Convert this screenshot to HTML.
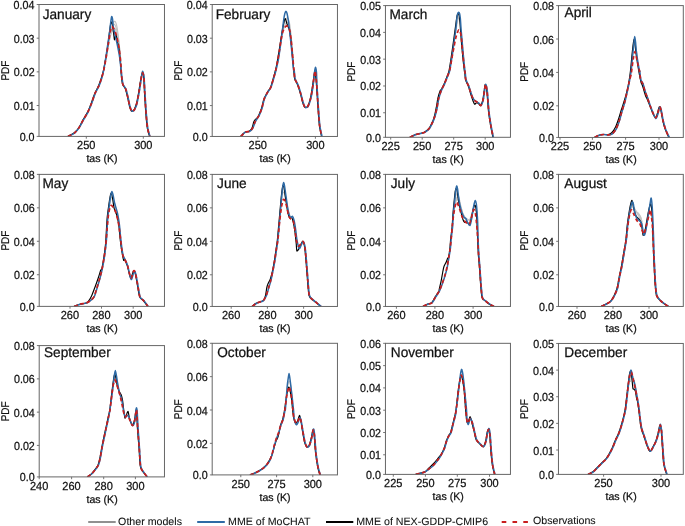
<!DOCTYPE html>
<html><head><meta charset="utf-8"><style>
html,body{margin:0;padding:0;background:#fff;overflow:hidden;}
svg{display:block;will-change:transform;}
text{font-family:"Liberation Sans", sans-serif;fill:#111;text-rendering:geometricPrecision;stroke:#111;stroke-width:0.25px;}
</style></head><body>
<svg width="685" height="526" viewBox="0 0 685 526">
<rect width="685" height="526" fill="#fff"/>
<clipPath id="c_January"><rect x="39.0" y="4.5" width="125.47" height="131.90"/></clipPath>
<g clip-path="url(#c_January)" fill="none" stroke-linejoin="round"><path d="M105.00,64.00 C105.40,61.60 107.27,50.13 108.00,46.00 C108.73,41.87 109.90,35.80 110.50,33.00 C111.10,30.20 112.03,26.53 112.50,25.00 C112.97,23.47 113.60,21.90 114.00,21.50 C114.40,21.10 115.10,21.27 115.50,22.00 C115.90,22.73 116.60,24.87 117.00,27.00 C117.40,29.13 118.10,34.67 118.50,38.00 C118.90,41.33 119.63,48.00 120.00,52.00 C120.37,56.00 121.13,65.87 121.30,68.00" stroke="#c4c4c4" stroke-width="1.2"/><path d="M106.00,60.00 C106.40,57.60 108.27,46.00 109.00,42.00 C109.73,38.00 110.90,32.33 111.50,30.00 C112.10,27.67 113.03,25.17 113.50,24.50 C113.97,23.83 114.60,24.40 115.00,25.00 C115.40,25.60 116.10,27.53 116.50,29.00 C116.90,30.47 117.60,33.47 118.00,36.00 C118.40,38.53 119.10,44.53 119.50,48.00 C119.90,51.47 120.80,60.13 121.00,62.00" stroke="#c4c4c4" stroke-width="1.2"/><path d="M105.50,62.00 C105.90,59.73 107.77,48.73 108.50,45.00 C109.23,41.27 110.40,36.00 111.00,34.00 C111.60,32.00 112.53,30.80 113.00,30.00 C113.47,29.20 114.10,27.87 114.50,28.00 C114.90,28.13 115.60,29.67 116.00,31.00 C116.40,32.33 117.03,35.20 117.50,38.00 C117.97,40.80 119.03,48.27 119.50,52.00 C119.97,55.73 120.80,64.13 121.00,66.00" stroke="#c4c4c4" stroke-width="1.2"/><path d="M67.75,136.40 C68.63,135.92 72.88,133.96 74.35,132.80 C75.82,131.64 77.58,129.46 78.75,127.70 C79.92,125.94 81.99,121.65 83.15,119.60 C84.31,117.55 86.38,114.43 87.45,112.30 C88.52,110.17 90.18,106.12 91.15,103.60 C92.12,101.08 93.78,95.73 94.75,93.40 C95.72,91.07 97.57,88.15 98.45,86.10 C99.33,84.05 100.67,80.15 101.35,78.00 C102.03,75.85 102.94,72.80 103.55,70.00 C104.16,67.20 105.35,60.47 105.95,57.00 C106.55,53.53 107.54,47.60 108.05,44.00 C108.56,40.40 109.34,32.91 109.75,30.00 C110.16,27.09 110.82,23.00 111.15,22.20 C111.48,21.40 111.93,22.56 112.25,24.00 C112.57,25.44 113.26,30.89 113.55,33.00 C113.84,35.11 114.22,39.33 114.45,39.80 C114.68,40.27 115.01,37.07 115.25,36.50 C115.49,35.93 115.98,34.90 116.25,35.50 C116.52,36.10 116.90,39.36 117.25,41.00 C117.60,42.64 118.41,44.73 118.85,47.80 C119.29,50.87 120.22,60.24 120.55,64.00 C120.88,67.76 121.08,73.31 121.35,76.00 C121.62,78.69 122.00,82.47 122.55,84.20 C123.10,85.93 124.77,87.20 125.45,89.00 C126.13,90.80 127.10,95.37 127.65,97.70 C128.20,100.03 129.07,104.75 129.55,106.50 C130.03,108.25 130.82,110.20 131.25,110.80 C131.68,111.40 132.35,111.17 132.75,111.00 C133.15,110.83 133.77,110.43 134.25,109.50 C134.73,108.57 135.78,106.20 136.35,104.00 C136.92,101.80 138.02,95.97 138.55,93.00 C139.08,90.03 139.87,84.37 140.35,81.70 C140.83,79.03 141.71,73.56 142.15,73.00 C142.59,72.44 143.34,74.98 143.65,77.50 C143.96,80.02 144.16,87.06 144.45,91.90 C144.74,96.74 145.46,108.93 145.85,113.80 C146.24,118.67 146.86,125.39 147.35,128.40 C147.84,131.41 149.26,135.33 149.55,136.40" stroke="#000" stroke-width="1.15"/><path d="M68.25,136.40 C69.13,135.92 73.38,133.96 74.85,132.80 C76.32,131.64 78.08,129.46 79.25,127.70 C80.42,125.94 82.49,121.65 83.65,119.60 C84.81,117.55 86.88,114.43 87.95,112.30 C89.02,110.17 90.68,106.12 91.65,103.60 C92.62,101.08 94.28,95.73 95.25,93.40 C96.22,91.07 98.07,88.15 98.95,86.10 C99.83,84.05 101.21,80.15 101.85,78.00 C102.49,75.85 103.23,72.67 103.75,70.00 C104.27,67.33 105.28,60.96 105.75,58.00 C106.22,55.04 106.76,51.11 107.25,47.80 C107.74,44.49 108.98,36.64 109.45,33.20 C109.92,29.76 110.46,24.21 110.75,22.00 C111.04,19.79 111.41,17.00 111.65,16.60 C111.89,16.20 112.35,17.76 112.55,19.00 C112.75,20.24 112.86,23.90 113.15,25.90 C113.44,27.90 114.34,32.12 114.75,34.00 C115.16,35.88 115.82,38.16 116.25,40.00 C116.68,41.84 117.48,45.40 117.95,47.80 C118.42,50.20 119.34,55.08 119.75,58.00 C120.16,60.92 120.77,67.30 121.05,69.70 C121.33,72.10 121.58,74.07 121.85,76.00 C122.12,77.93 122.50,82.47 123.05,84.20 C123.60,85.93 125.27,87.20 125.95,89.00 C126.63,90.80 127.60,95.37 128.15,97.70 C128.70,100.03 129.57,104.75 130.05,106.50 C130.53,108.25 131.32,110.20 131.75,110.80 C132.18,111.40 132.85,111.17 133.25,111.00 C133.65,110.83 134.27,110.43 134.75,109.50 C135.23,108.57 136.28,106.20 136.85,104.00 C137.42,101.80 138.52,95.97 139.05,93.00 C139.58,90.03 140.45,84.23 140.85,81.70 C141.25,79.17 141.80,75.40 142.05,74.00 C142.30,72.60 142.54,71.13 142.75,71.20 C142.96,71.27 143.46,73.66 143.65,74.50 C143.84,75.34 143.98,75.18 144.15,77.50 C144.32,79.82 144.66,87.06 144.95,91.90 C145.24,96.74 145.96,108.93 146.35,113.80 C146.74,118.67 147.36,125.39 147.85,128.40 C148.34,131.41 149.76,135.33 150.05,136.40" stroke="#2e6aa5" stroke-width="1.5"/><path d="M68.00,136.40 C68.88,135.92 73.13,133.96 74.60,132.80 C76.07,131.64 77.83,129.46 79.00,127.70 C80.17,125.94 82.24,121.65 83.40,119.60 C84.56,117.55 86.63,114.43 87.70,112.30 C88.77,110.17 90.43,106.12 91.40,103.60 C92.37,101.08 94.03,95.73 95.00,93.40 C95.97,91.07 97.82,88.15 98.70,86.10 C99.58,84.05 100.92,80.15 101.60,78.00 C102.28,75.85 103.19,72.80 103.80,70.00 C104.41,67.20 105.60,60.47 106.20,57.00 C106.80,53.53 107.77,47.33 108.30,44.00 C108.83,40.67 109.73,34.32 110.20,32.00 C110.67,29.68 111.36,27.07 111.80,26.60 C112.24,26.13 112.91,27.42 113.50,28.50 C114.09,29.58 115.45,32.13 116.20,34.70 C116.95,37.27 118.49,43.89 119.10,47.80 C119.71,51.71 120.47,60.24 120.80,64.00 C121.13,67.76 121.33,73.31 121.60,76.00 C121.87,78.69 122.25,82.47 122.80,84.20 C123.35,85.93 125.02,87.20 125.70,89.00 C126.38,90.80 127.35,95.37 127.90,97.70 C128.45,100.03 129.32,104.75 129.80,106.50 C130.28,108.25 131.07,110.20 131.50,110.80 C131.93,111.40 132.60,111.17 133.00,111.00 C133.40,110.83 134.02,110.43 134.50,109.50 C134.98,108.57 136.03,106.20 136.60,104.00 C137.17,101.80 138.27,95.97 138.80,93.00 C139.33,90.03 140.12,84.37 140.60,81.70 C141.08,79.03 141.96,73.56 142.40,73.00 C142.84,72.44 143.59,74.98 143.90,77.50 C144.21,80.02 144.41,87.06 144.70,91.90 C144.99,96.74 145.71,108.93 146.10,113.80 C146.49,118.67 147.11,125.39 147.60,128.40 C148.09,131.41 149.51,135.33 149.80,136.40" stroke="#c81e1e" stroke-width="1.7" stroke-dasharray="3.8 2.6"/></g>
<rect x="39.0" y="4.5" width="125.47" height="131.90" fill="none" stroke="#666" stroke-width="1"/>
<line x1="36.70" y1="136.40" x2="39.0" y2="136.40" stroke="#666" stroke-width="0.9"/>
<text transform="translate(19.64,140.90) scale(0.915,1)" font-size="11.7">0.0</text>
<line x1="36.70" y1="105.53" x2="39.0" y2="105.53" stroke="#666" stroke-width="0.9"/>
<text transform="translate(13.79,110.03) scale(0.915,1)" font-size="11.7">0.01</text>
<line x1="36.70" y1="71.85" x2="39.0" y2="71.85" stroke="#666" stroke-width="0.9"/>
<text transform="translate(13.80,76.35) scale(0.915,1)" font-size="11.7">0.02</text>
<line x1="36.70" y1="38.18" x2="39.0" y2="38.18" stroke="#666" stroke-width="0.9"/>
<text transform="translate(13.73,42.68) scale(0.915,1)" font-size="11.7">0.03</text>
<line x1="36.70" y1="4.50" x2="39.0" y2="4.50" stroke="#666" stroke-width="0.9"/>
<text transform="translate(13.58,9.00) scale(0.915,1)" font-size="11.7">0.04</text>
<line x1="86.3" y1="136.4" x2="86.3" y2="138.70" stroke="#666" stroke-width="0.9"/>
<text transform="translate(77.06,149.30) scale(0.94,1)" font-size="11.7">250</text>
<line x1="143.3" y1="136.4" x2="143.3" y2="138.70" stroke="#666" stroke-width="0.9"/>
<text transform="translate(134.13,149.30) scale(0.94,1)" font-size="11.7">300</text>
<text transform="translate(86.40,162.20) scale(0.98,1)" font-size="10.8">tas (K)</text>
<text transform="translate(8.70,70.45) rotate(-90) translate(-10.12,0) scale(0.885,1)" font-size="11.2">PDF</text>
<text transform="translate(42.64,19.00) scale(0.975,1)" font-size="14.0" fill="#000">January</text>
<clipPath id="c_February"><rect x="212.2" y="4.5" width="125.25" height="131.96"/></clipPath>
<g clip-path="url(#c_February)" fill="none" stroke-linejoin="round"><path d="M280.00,46.00 C280.27,44.27 281.47,35.93 282.00,33.00 C282.53,30.07 283.47,25.87 284.00,24.00 C284.53,22.13 285.53,19.80 286.00,19.00 C286.47,18.20 287.10,17.73 287.50,18.00 C287.90,18.27 288.60,19.40 289.00,21.00 C289.40,22.60 290.10,26.80 290.50,30.00 C290.90,33.20 291.60,40.73 292.00,45.00 C292.40,49.27 293.30,59.73 293.50,62.00" stroke="#c4c4c4" stroke-width="1.2"/><path d="M281.00,42.00 C281.27,40.53 282.47,33.27 283.00,31.00 C283.53,28.73 284.47,26.20 285.00,25.00 C285.53,23.80 286.53,22.13 287.00,22.00 C287.47,21.87 288.10,22.93 288.50,24.00 C288.90,25.07 289.60,27.60 290.00,30.00 C290.40,32.40 291.10,38.27 291.50,42.00 C291.90,45.73 292.80,55.87 293.00,58.00" stroke="#c4c4c4" stroke-width="1.2"/><path d="M240.55,136.46 C241.12,135.89 243.69,132.89 244.85,132.20 C246.01,131.51 248.28,131.89 249.25,131.30 C250.22,130.71 251.55,129.04 252.15,127.80 C252.75,126.56 253.34,123.11 253.75,122.00 C254.16,120.89 254.85,119.97 255.25,119.50 C255.65,119.03 256.28,119.06 256.75,118.50 C257.22,117.94 258.10,116.70 258.75,115.30 C259.40,113.90 260.97,110.15 261.65,108.00 C262.33,105.85 263.06,101.35 263.85,99.20 C264.64,97.05 266.67,93.46 267.55,91.90 C268.43,90.34 269.68,89.35 270.45,87.50 C271.22,85.65 272.67,80.33 273.35,78.00 C274.03,75.67 275.02,72.27 275.55,70.00 C276.08,67.73 276.87,63.57 277.35,61.00 C277.83,58.43 278.70,53.50 279.15,50.70 C279.60,47.90 280.27,43.03 280.75,40.00 C281.23,36.97 282.18,30.85 282.75,28.00 C283.32,25.15 284.49,19.17 285.05,18.60 C285.61,18.03 286.52,22.58 286.95,23.70 C287.38,24.82 287.92,26.12 288.25,27.00 C288.58,27.88 289.12,28.77 289.45,30.30 C289.78,31.83 290.46,36.17 290.75,38.50 C291.04,40.83 291.38,44.93 291.65,47.80 C291.92,50.67 292.47,56.97 292.75,60.00 C293.03,63.03 293.50,67.99 293.75,70.50 C294.00,73.01 294.16,76.92 294.65,78.80 C295.14,80.68 296.69,82.65 297.45,84.60 C298.21,86.55 299.67,91.07 300.35,93.40 C301.03,95.73 301.96,100.25 302.55,102.10 C303.14,103.95 304.07,106.74 304.75,107.30 C305.43,107.86 306.88,107.58 307.65,106.30 C308.42,105.02 309.87,100.59 310.55,97.70 C311.23,94.81 312.26,87.76 312.75,84.60 C313.24,81.44 313.94,75.75 314.25,74.00 C314.56,72.25 314.76,70.09 315.05,71.50 C315.34,72.91 316.08,79.93 316.45,84.60 C316.82,89.27 317.46,101.05 317.85,106.50 C318.24,111.95 318.86,121.51 319.35,125.50 C319.84,129.49 321.26,135.00 321.55,136.46" stroke="#000" stroke-width="1.15"/><path d="M241.05,136.46 C241.62,135.89 244.19,132.89 245.35,132.20 C246.51,131.51 248.78,131.81 249.75,131.30 C250.72,130.79 251.86,129.76 252.65,128.40 C253.44,127.04 254.77,122.85 255.65,121.10 C256.53,119.35 258.38,117.05 259.25,115.30 C260.12,113.55 261.47,110.15 262.15,108.00 C262.83,105.85 263.56,101.35 264.35,99.20 C265.14,97.05 267.17,93.46 268.05,91.90 C268.93,90.34 270.18,89.35 270.95,87.50 C271.72,85.65 273.17,80.33 273.85,78.00 C274.53,75.67 275.41,72.67 276.05,70.00 C276.69,67.33 277.97,61.93 278.65,58.00 C279.33,54.07 280.48,45.55 281.15,40.50 C281.82,35.45 283.16,23.70 283.65,20.10 C284.14,16.50 284.54,14.67 284.85,13.50 C285.16,12.33 285.66,11.30 285.95,11.30 C286.24,11.30 286.72,12.14 287.05,13.50 C287.38,14.86 287.97,17.90 288.45,21.50 C288.93,25.10 290.16,36.02 290.65,40.50 C291.14,44.98 291.76,51.17 292.15,55.10 C292.54,59.03 293.27,67.95 293.55,70.00 C293.83,72.05 294.04,69.33 294.25,70.50 C294.46,71.67 294.66,76.92 295.15,78.80 C295.64,80.68 297.19,82.65 297.95,84.60 C298.71,86.55 300.17,91.07 300.85,93.40 C301.53,95.73 302.46,100.25 303.05,102.10 C303.64,103.95 304.57,106.74 305.25,107.30 C305.93,107.86 307.38,107.58 308.15,106.30 C308.92,105.02 310.37,100.59 311.05,97.70 C311.73,94.81 312.78,88.03 313.25,84.60 C313.72,81.17 314.26,74.32 314.55,72.00 C314.84,69.68 315.20,67.20 315.45,67.20 C315.70,67.20 316.25,69.68 316.45,72.00 C316.65,74.32 316.70,80.00 316.95,84.60 C317.20,89.20 317.96,101.05 318.35,106.50 C318.74,111.95 319.36,121.51 319.85,125.50 C320.34,129.49 321.76,135.00 322.05,136.46" stroke="#2e6aa5" stroke-width="1.5"/><path d="M240.80,136.46 C241.37,135.89 243.94,132.89 245.10,132.20 C246.26,131.51 248.53,131.81 249.50,131.30 C250.47,130.79 251.61,129.76 252.40,128.40 C253.19,127.04 254.52,122.85 255.40,121.10 C256.28,119.35 258.13,117.05 259.00,115.30 C259.87,113.55 261.22,110.15 261.90,108.00 C262.58,105.85 263.31,101.35 264.10,99.20 C264.89,97.05 266.92,93.46 267.80,91.90 C268.68,90.34 269.93,89.35 270.70,87.50 C271.47,85.65 272.92,80.33 273.60,78.00 C274.28,75.67 275.27,72.27 275.80,70.00 C276.33,67.73 277.12,63.57 277.60,61.00 C278.08,58.43 278.95,53.43 279.40,50.70 C279.85,47.97 280.60,42.83 281.00,40.50 C281.40,38.17 281.93,34.87 282.40,33.20 C282.87,31.53 283.93,28.97 284.50,28.00 C285.07,27.03 286.17,25.97 286.70,25.90 C287.23,25.83 288.10,26.91 288.50,27.50 C288.90,28.09 289.37,28.83 289.70,30.30 C290.03,31.77 290.71,36.17 291.00,38.50 C291.29,40.83 291.63,44.93 291.90,47.80 C292.17,50.67 292.72,56.97 293.00,60.00 C293.28,63.03 293.75,67.99 294.00,70.50 C294.25,73.01 294.41,76.92 294.90,78.80 C295.39,80.68 296.94,82.65 297.70,84.60 C298.46,86.55 299.92,91.07 300.60,93.40 C301.28,95.73 302.21,100.25 302.80,102.10 C303.39,103.95 304.32,106.74 305.00,107.30 C305.68,107.86 307.13,107.58 307.90,106.30 C308.67,105.02 310.12,100.59 310.80,97.70 C311.48,94.81 312.51,87.76 313.00,84.60 C313.49,81.44 314.19,75.75 314.50,74.00 C314.81,72.25 315.01,70.09 315.30,71.50 C315.59,72.91 316.33,79.93 316.70,84.60 C317.07,89.27 317.71,101.05 318.10,106.50 C318.49,111.95 319.11,121.51 319.60,125.50 C320.09,129.49 321.51,135.00 321.80,136.46" stroke="#c81e1e" stroke-width="1.7" stroke-dasharray="3.8 2.6"/></g>
<rect x="212.2" y="4.5" width="125.25" height="131.96" fill="none" stroke="#666" stroke-width="1"/>
<line x1="209.90" y1="136.46" x2="212.2" y2="136.46" stroke="#666" stroke-width="0.9"/>
<text transform="translate(192.84,140.96) scale(0.915,1)" font-size="11.7">0.0</text>
<line x1="209.90" y1="105.57" x2="212.2" y2="105.57" stroke="#666" stroke-width="0.9"/>
<text transform="translate(186.99,110.07) scale(0.915,1)" font-size="11.7">0.01</text>
<line x1="209.90" y1="71.88" x2="212.2" y2="71.88" stroke="#666" stroke-width="0.9"/>
<text transform="translate(187.00,76.38) scale(0.915,1)" font-size="11.7">0.02</text>
<line x1="209.90" y1="38.19" x2="212.2" y2="38.19" stroke="#666" stroke-width="0.9"/>
<text transform="translate(186.93,42.69) scale(0.915,1)" font-size="11.7">0.03</text>
<line x1="209.90" y1="4.50" x2="212.2" y2="4.50" stroke="#666" stroke-width="0.9"/>
<text transform="translate(186.78,9.00) scale(0.915,1)" font-size="11.7">0.04</text>
<line x1="257.8" y1="136.46" x2="257.8" y2="138.76" stroke="#666" stroke-width="0.9"/>
<text transform="translate(248.56,149.36) scale(0.94,1)" font-size="11.7">250</text>
<line x1="315.4" y1="136.46" x2="315.4" y2="138.76" stroke="#666" stroke-width="0.9"/>
<text transform="translate(306.23,149.36) scale(0.94,1)" font-size="11.7">300</text>
<text transform="translate(259.49,162.26) scale(0.98,1)" font-size="10.8">tas (K)</text>
<text transform="translate(181.90,70.48) rotate(-90) translate(-10.12,0) scale(0.885,1)" font-size="11.2">PDF</text>
<text transform="translate(215.68,19.00) scale(0.975,1)" font-size="14.0" fill="#000">February</text>
<clipPath id="c_March"><rect x="385.45" y="5.59" width="125.01" height="131.71"/></clipPath>
<g clip-path="url(#c_March)" fill="none" stroke-linejoin="round"><path d="M452.00,58.00 C452.33,55.60 453.83,44.53 454.50,40.00 C455.17,35.47 456.47,26.93 457.00,24.00 C457.53,21.07 458.10,18.27 458.50,18.00 C458.90,17.73 459.60,19.33 460.00,22.00 C460.40,24.67 461.10,33.60 461.50,38.00 C461.90,42.40 462.80,52.73 463.00,55.00" stroke="#c4c4c4" stroke-width="1.2"/><path d="M409.75,137.30 C410.52,136.93 414.19,135.01 415.55,134.50 C416.91,133.99 418.78,133.79 419.95,133.50 C421.12,133.21 423.18,132.94 424.35,132.30 C425.52,131.66 427.68,130.06 428.75,128.70 C429.82,127.34 431.82,123.06 432.35,122.10 C432.88,121.14 432.43,122.45 432.75,121.50 C433.07,120.55 434.24,117.07 434.75,115.00 C435.26,112.93 436.12,108.27 436.55,106.00 C436.98,103.73 437.46,100.07 437.95,98.00 C438.44,95.93 439.82,91.57 440.25,90.50 C440.68,89.43 440.64,90.85 441.15,90.00 C441.66,89.15 443.28,85.86 444.05,84.10 C444.82,82.34 446.30,78.55 446.95,76.80 C447.60,75.05 448.39,73.56 448.95,71.00 C449.51,68.44 450.55,61.53 451.15,57.60 C451.75,53.67 452.80,46.18 453.45,41.50 C454.10,36.82 455.56,25.97 456.05,22.50 C456.54,19.03 456.88,16.70 457.15,15.50 C457.42,14.30 457.80,13.50 458.05,13.50 C458.30,13.50 458.80,14.30 459.05,15.50 C459.30,16.70 459.64,19.03 459.95,22.50 C460.26,25.97 460.96,36.82 461.35,41.50 C461.74,46.18 462.45,53.67 462.85,57.60 C463.25,61.53 464.10,69.08 464.35,71.00 C464.60,72.92 464.59,70.83 464.75,72.00 C464.91,73.17 465.10,77.99 465.55,79.80 C466.00,81.61 467.42,83.57 468.15,85.60 C468.88,87.63 470.37,92.88 471.05,95.00 C471.73,97.12 472.76,100.26 473.25,101.50 C473.74,102.74 474.36,104.10 474.75,104.30 C475.14,104.50 475.67,103.13 476.15,103.00 C476.63,102.87 477.76,102.97 478.35,103.30 C478.94,103.63 479.96,105.91 480.55,105.50 C481.14,105.09 482.26,102.27 482.75,100.20 C483.24,98.13 483.90,92.11 484.25,90.00 C484.60,87.89 485.00,84.21 485.35,84.40 C485.70,84.59 486.42,87.73 486.85,91.40 C487.28,95.07 488.03,107.22 488.55,111.90 C489.07,116.58 490.16,123.11 490.75,126.50 C491.34,129.89 492.66,135.86 492.95,137.30" stroke="#000" stroke-width="1.15"/><path d="M410.25,137.30 C411.02,136.93 414.69,135.01 416.05,134.50 C417.41,133.99 419.28,133.79 420.45,133.50 C421.62,133.21 423.68,132.94 424.85,132.30 C426.02,131.66 428.18,130.06 429.25,128.70 C430.32,127.34 432.08,123.75 432.85,122.10 C433.62,120.45 434.46,118.25 435.05,116.30 C435.64,114.35 436.76,109.85 437.25,107.50 C437.74,105.15 438.16,101.03 438.75,98.70 C439.34,96.37 440.88,91.95 441.65,90.00 C442.42,88.05 443.78,85.86 444.55,84.10 C445.32,82.34 446.77,78.55 447.45,76.80 C448.13,75.05 449.06,73.56 449.65,71.00 C450.24,68.44 451.25,61.53 451.85,57.60 C452.45,53.67 453.60,45.45 454.15,41.50 C454.70,37.55 455.59,31.05 455.95,28.00 C456.31,24.95 456.61,20.53 456.85,18.60 C457.09,16.67 457.51,14.35 457.75,13.50 C457.99,12.65 458.41,12.20 458.65,12.20 C458.89,12.20 459.32,12.65 459.55,13.50 C459.78,14.35 460.15,16.52 460.35,18.60 C460.55,20.68 460.81,26.05 461.05,29.10 C461.29,32.15 461.82,37.70 462.15,41.50 C462.48,45.30 463.18,53.67 463.55,57.60 C463.92,61.53 464.72,69.08 464.95,71.00 C465.18,72.92 465.10,70.83 465.25,72.00 C465.40,73.17 465.60,77.99 466.05,79.80 C466.50,81.61 467.92,83.65 468.65,85.60 C469.38,87.55 470.87,92.55 471.55,94.40 C472.23,96.25 473.07,98.53 473.75,99.50 C474.43,100.47 475.97,101.22 476.65,101.70 C477.33,102.18 478.26,102.59 478.85,103.10 C479.44,103.61 480.46,105.89 481.05,105.50 C481.64,105.11 482.76,102.27 483.25,100.20 C483.74,98.13 484.40,92.11 484.75,90.00 C485.10,87.89 485.50,84.21 485.85,84.40 C486.20,84.59 486.92,87.73 487.35,91.40 C487.78,95.07 488.53,107.22 489.05,111.90 C489.57,116.58 490.66,123.11 491.25,126.50 C491.84,129.89 493.16,135.86 493.45,137.30" stroke="#2e6aa5" stroke-width="1.5"/><path d="M410.00,137.30 C410.77,136.93 414.44,135.01 415.80,134.50 C417.16,133.99 419.03,133.79 420.20,133.50 C421.37,133.21 423.43,132.94 424.60,132.30 C425.77,131.66 427.93,130.06 429.00,128.70 C430.07,127.34 431.83,123.75 432.60,122.10 C433.37,120.45 434.21,118.25 434.80,116.30 C435.39,114.35 436.51,109.85 437.00,107.50 C437.49,105.15 437.91,101.03 438.50,98.70 C439.09,96.37 440.63,91.95 441.40,90.00 C442.17,88.05 443.53,85.86 444.30,84.10 C445.07,82.34 446.47,78.68 447.20,76.80 C447.93,74.92 449.21,72.24 449.80,70.00 C450.39,67.76 451.16,62.44 451.60,60.00 C452.04,57.56 452.51,54.75 453.10,51.70 C453.69,48.65 455.23,40.02 456.00,37.10 C456.77,34.18 458.22,29.99 458.90,29.80 C459.58,29.61 460.61,32.78 461.10,35.70 C461.59,38.62 462.21,47.79 462.60,51.70 C462.99,55.61 463.68,62.29 464.00,65.00 C464.32,67.71 464.76,70.03 465.00,72.00 C465.24,73.97 465.35,77.99 465.80,79.80 C466.25,81.61 467.67,83.65 468.40,85.60 C469.13,87.55 470.62,92.55 471.30,94.40 C471.98,96.25 472.82,98.53 473.50,99.50 C474.18,100.47 475.72,101.22 476.40,101.70 C477.08,102.18 478.01,102.59 478.60,103.10 C479.19,103.61 480.21,105.89 480.80,105.50 C481.39,105.11 482.51,102.27 483.00,100.20 C483.49,98.13 484.15,92.11 484.50,90.00 C484.85,87.89 485.25,84.21 485.60,84.40 C485.95,84.59 486.67,87.73 487.10,91.40 C487.53,95.07 488.28,107.22 488.80,111.90 C489.32,116.58 490.41,123.11 491.00,126.50 C491.59,129.89 492.91,135.86 493.20,137.30" stroke="#c81e1e" stroke-width="1.7" stroke-dasharray="3.8 2.6"/></g>
<rect x="385.45" y="5.59" width="125.01" height="131.71" fill="none" stroke="#666" stroke-width="1"/>
<line x1="383.15" y1="137.30" x2="385.45" y2="137.30" stroke="#666" stroke-width="0.9"/>
<text transform="translate(366.09,141.80) scale(0.915,1)" font-size="11.7">0.0</text>
<line x1="383.15" y1="112.76" x2="385.45" y2="112.76" stroke="#666" stroke-width="0.9"/>
<text transform="translate(360.24,117.26) scale(0.915,1)" font-size="11.7">0.01</text>
<line x1="383.15" y1="85.97" x2="385.45" y2="85.97" stroke="#666" stroke-width="0.9"/>
<text transform="translate(360.25,90.47) scale(0.915,1)" font-size="11.7">0.02</text>
<line x1="383.15" y1="59.17" x2="385.45" y2="59.17" stroke="#666" stroke-width="0.9"/>
<text transform="translate(360.18,63.67) scale(0.915,1)" font-size="11.7">0.03</text>
<line x1="383.15" y1="32.38" x2="385.45" y2="32.38" stroke="#666" stroke-width="0.9"/>
<text transform="translate(360.03,36.88) scale(0.915,1)" font-size="11.7">0.04</text>
<line x1="383.15" y1="5.59" x2="385.45" y2="5.59" stroke="#666" stroke-width="0.9"/>
<text transform="translate(360.16,10.09) scale(0.915,1)" font-size="11.7">0.05</text>
<line x1="390.7" y1="137.3" x2="390.7" y2="139.60" stroke="#666" stroke-width="0.9"/>
<text transform="translate(381.48,150.20) scale(0.94,1)" font-size="11.7">225</text>
<line x1="422.2" y1="137.3" x2="422.2" y2="139.60" stroke="#666" stroke-width="0.9"/>
<text transform="translate(412.96,150.20) scale(0.94,1)" font-size="11.7">250</text>
<line x1="453.7" y1="137.3" x2="453.7" y2="139.60" stroke="#666" stroke-width="0.9"/>
<text transform="translate(444.48,150.20) scale(0.94,1)" font-size="11.7">275</text>
<line x1="485.2" y1="137.3" x2="485.2" y2="139.60" stroke="#666" stroke-width="0.9"/>
<text transform="translate(476.03,150.20) scale(0.94,1)" font-size="11.7">300</text>
<text transform="translate(432.62,163.10) scale(0.98,1)" font-size="10.8">tas (K)</text>
<text transform="translate(355.15,71.45) rotate(-90) translate(-10.12,0) scale(0.885,1)" font-size="11.2">PDF</text>
<text transform="translate(389.48,19.00) scale(0.975,1)" font-size="14.0" fill="#000">March</text>
<clipPath id="c_April"><rect x="558.46" y="5.6" width="124.84" height="131.85"/></clipPath>
<g clip-path="url(#c_April)" fill="none" stroke-linejoin="round"><path d="M632.00,60.00 C632.20,58.40 633.13,50.13 633.50,48.00 C633.87,45.87 634.47,44.00 634.80,44.00 C635.13,44.00 635.64,46.13 636.00,48.00 C636.36,49.87 637.30,56.67 637.50,58.00" stroke="#c4c4c4" stroke-width="1.2"/><path d="M594.45,137.45 C595.04,137.15 597.69,135.59 598.85,135.20 C600.01,134.81 601.90,134.59 603.15,134.50 C604.40,134.41 607.08,134.77 608.25,134.50 C609.42,134.23 610.98,133.50 611.95,132.50 C612.92,131.50 614.67,128.80 615.55,127.00 C616.43,125.20 617.76,121.33 618.55,119.00 C619.34,116.67 620.68,111.97 621.45,109.50 C622.22,107.03 623.67,102.71 624.35,100.50 C625.03,98.29 625.96,95.27 626.55,92.90 C627.14,90.53 628.23,85.62 628.75,82.70 C629.27,79.78 630.00,74.93 630.45,71.00 C630.90,67.07 631.76,56.93 632.15,53.20 C632.54,49.47 633.08,44.85 633.35,43.00 C633.62,41.15 633.92,39.17 634.15,39.30 C634.38,39.43 634.81,42.15 635.05,44.00 C635.29,45.85 635.46,49.60 635.95,53.20 C636.44,56.80 638.18,67.56 638.75,71.00 C639.32,74.44 639.93,77.44 640.25,79.00 C640.57,80.56 640.82,81.70 641.15,82.70 C641.48,83.70 642.16,84.75 642.75,86.50 C643.34,88.25 644.99,94.20 645.55,95.80 C646.11,97.40 646.36,97.14 646.95,98.50 C647.54,99.86 649.16,104.03 649.95,106.00 C650.74,107.97 652.12,111.74 652.85,113.30 C653.58,114.86 654.84,117.70 655.45,117.70 C656.06,117.70 656.93,114.75 657.45,113.30 C657.97,111.85 658.90,107.19 659.35,106.80 C659.80,106.41 660.40,108.56 660.85,110.40 C661.30,112.24 662.16,118.07 662.75,120.60 C663.34,123.13 664.44,127.15 665.25,129.40 C666.06,131.65 668.37,136.38 668.85,137.45" stroke="#000" stroke-width="1.15"/><path d="M594.95,137.45 C595.54,137.15 598.19,135.59 599.35,135.20 C600.51,134.81 602.40,134.54 603.65,134.50 C604.90,134.46 607.58,134.99 608.75,134.90 C609.92,134.81 611.48,134.53 612.45,133.80 C613.42,133.07 615.17,130.96 616.05,129.40 C616.93,127.84 618.26,124.43 619.05,122.10 C619.84,119.77 621.18,114.53 621.95,111.90 C622.72,109.27 624.17,104.93 624.85,102.40 C625.53,99.87 626.46,95.53 627.05,92.90 C627.64,90.27 628.70,85.62 629.25,82.70 C629.80,79.78 630.67,74.93 631.15,71.00 C631.63,67.07 632.46,57.07 632.85,53.20 C633.24,49.33 633.80,44.24 634.05,42.00 C634.30,39.76 634.55,36.40 634.75,36.40 C634.95,36.40 635.31,39.76 635.55,42.00 C635.79,44.24 636.03,49.33 636.55,53.20 C637.07,57.07 639.02,68.63 639.45,71.00 C639.88,73.37 639.55,69.83 639.75,71.00 C639.95,72.17 640.50,78.05 640.95,79.80 C641.40,81.55 642.58,82.55 643.15,84.10 C643.72,85.65 644.68,89.64 645.25,91.40 C645.82,93.16 646.76,95.35 647.45,97.30 C648.14,99.25 649.66,103.84 650.45,106.00 C651.24,108.16 652.62,111.82 653.35,113.50 C654.08,115.18 655.34,118.53 655.95,118.60 C656.56,118.67 657.43,115.57 657.95,114.00 C658.47,112.43 659.40,107.28 659.85,106.80 C660.30,106.32 660.90,108.56 661.35,110.40 C661.80,112.24 662.66,118.07 663.25,120.60 C663.84,123.13 664.94,127.15 665.75,129.40 C666.56,131.65 668.87,136.38 669.35,137.45" stroke="#2e6aa5" stroke-width="1.5"/><path d="M594.70,137.45 C595.29,137.15 597.94,135.59 599.10,135.20 C600.26,134.81 602.15,134.54 603.40,134.50 C604.65,134.46 607.33,134.99 608.50,134.90 C609.67,134.81 611.23,134.53 612.20,133.80 C613.17,133.07 614.92,130.96 615.80,129.40 C616.68,127.84 618.01,124.43 618.80,122.10 C619.59,119.77 620.93,114.53 621.70,111.90 C622.47,109.27 623.92,104.93 624.60,102.40 C625.28,99.87 626.21,95.53 626.80,92.90 C627.39,90.27 628.41,85.23 629.00,82.70 C629.59,80.17 630.80,75.86 631.20,73.90 C631.60,71.94 631.71,70.12 632.00,68.00 C632.29,65.88 633.03,60.17 633.40,58.00 C633.77,55.83 634.41,51.83 634.80,51.70 C635.19,51.57 635.91,55.44 636.30,57.00 C636.69,58.56 637.27,61.53 637.70,63.40 C638.13,65.27 639.10,68.81 639.50,71.00 C639.90,73.19 640.25,78.05 640.70,79.80 C641.15,81.55 642.33,82.55 642.90,84.10 C643.47,85.65 644.43,89.64 645.00,91.40 C645.57,93.16 646.51,95.35 647.20,97.30 C647.89,99.25 649.41,103.87 650.20,106.00 C650.99,108.13 652.37,111.74 653.10,113.30 C653.83,114.86 655.09,117.70 655.70,117.70 C656.31,117.70 657.18,114.75 657.70,113.30 C658.22,111.85 659.15,107.19 659.60,106.80 C660.05,106.41 660.65,108.56 661.10,110.40 C661.55,112.24 662.41,118.07 663.00,120.60 C663.59,123.13 664.69,127.15 665.50,129.40 C666.31,131.65 668.62,136.38 669.10,137.45" stroke="#c81e1e" stroke-width="1.7" stroke-dasharray="3.8 2.6"/></g>
<rect x="558.46" y="5.6" width="124.84" height="131.85" fill="none" stroke="#666" stroke-width="1"/>
<line x1="556.16" y1="137.45" x2="558.46" y2="137.45" stroke="#666" stroke-width="0.9"/>
<text transform="translate(539.10,141.95) scale(0.915,1)" font-size="11.7">0.0</text>
<line x1="556.16" y1="105.84" x2="558.46" y2="105.84" stroke="#666" stroke-width="0.9"/>
<text transform="translate(533.26,110.34) scale(0.915,1)" font-size="11.7">0.02</text>
<line x1="556.16" y1="72.42" x2="558.46" y2="72.42" stroke="#666" stroke-width="0.9"/>
<text transform="translate(533.04,76.92) scale(0.915,1)" font-size="11.7">0.04</text>
<line x1="556.16" y1="39.01" x2="558.46" y2="39.01" stroke="#666" stroke-width="0.9"/>
<text transform="translate(533.19,43.51) scale(0.915,1)" font-size="11.7">0.06</text>
<line x1="556.16" y1="5.60" x2="558.46" y2="5.60" stroke="#666" stroke-width="0.9"/>
<text transform="translate(533.19,10.10) scale(0.915,1)" font-size="11.7">0.08</text>
<line x1="560" y1="137.45" x2="560" y2="139.75" stroke="#666" stroke-width="0.9"/>
<text transform="translate(550.78,150.35) scale(0.94,1)" font-size="11.7">225</text>
<line x1="592.4" y1="137.45" x2="592.4" y2="139.75" stroke="#666" stroke-width="0.9"/>
<text transform="translate(583.16,150.35) scale(0.94,1)" font-size="11.7">250</text>
<line x1="625.6" y1="137.45" x2="625.6" y2="139.75" stroke="#666" stroke-width="0.9"/>
<text transform="translate(616.38,150.35) scale(0.94,1)" font-size="11.7">275</text>
<line x1="659" y1="137.45" x2="659" y2="139.75" stroke="#666" stroke-width="0.9"/>
<text transform="translate(649.83,150.35) scale(0.94,1)" font-size="11.7">300</text>
<text transform="translate(605.54,163.25) scale(0.98,1)" font-size="10.8">tas (K)</text>
<text transform="translate(528.16,71.52) rotate(-90) translate(-10.12,0) scale(0.885,1)" font-size="11.2">PDF</text>
<text transform="translate(564.57,17.00) scale(0.975,1)" font-size="14.0" fill="#000">April</text>
<clipPath id="c_May"><rect x="39.2" y="174.39" width="125.27" height="131.99"/></clipPath>
<g clip-path="url(#c_May)" fill="none" stroke-linejoin="round"><path d="M107.00,228.00 C107.20,225.87 108.03,215.73 108.50,212.00 C108.97,208.27 110.03,202.00 110.50,200.00 C110.97,198.00 111.60,197.00 112.00,197.00 C112.40,197.00 113.03,198.67 113.50,200.00 C113.97,201.33 114.90,204.73 115.50,207.00 C116.10,209.27 117.67,215.67 118.00,217.00" stroke="#c4c4c4" stroke-width="1.2"/><path d="M73.95,306.38 C74.74,306.09 78.29,304.64 79.85,304.20 C81.41,303.76 84.60,303.37 85.65,303.10 C86.70,302.83 86.98,303.12 87.75,302.20 C88.52,301.28 90.46,298.27 91.45,296.20 C92.44,294.13 94.18,289.33 95.15,286.70 C96.12,284.07 98.00,278.73 98.75,276.50 C99.50,274.27 100.35,270.97 100.75,270.00 C101.15,269.03 101.34,270.87 101.75,269.20 C102.16,267.53 103.38,260.46 103.85,257.50 C104.32,254.54 104.98,249.33 105.25,247.00 C105.52,244.67 105.60,243.87 105.85,240.00 C106.10,236.13 106.74,222.80 107.15,218.00 C107.56,213.20 108.55,206.87 108.95,204.00 C109.35,201.13 109.86,197.97 110.15,196.50 C110.44,195.03 110.86,192.93 111.15,193.00 C111.44,193.07 111.95,194.96 112.35,197.00 C112.75,199.04 113.56,205.90 114.15,208.30 C114.74,210.70 116.14,212.77 116.75,215.00 C117.36,217.23 118.28,221.67 118.75,225.00 C119.22,228.33 119.89,236.80 120.25,240.00 C120.61,243.20 121.10,246.73 121.45,249.00 C121.80,251.27 122.56,255.48 122.85,257.00 C123.14,258.52 123.45,260.07 123.65,260.40 C123.85,260.73 123.87,258.82 124.35,259.50 C124.83,260.18 126.41,263.03 127.25,265.50 C128.09,267.97 129.81,277.31 130.65,278.00 C131.49,278.69 132.94,271.29 133.55,270.70 C134.16,270.11 134.73,271.65 135.25,273.60 C135.77,275.55 136.86,282.19 137.45,285.30 C138.04,288.41 138.86,294.86 139.65,296.90 C140.44,298.94 142.28,299.34 143.35,300.60 C144.42,301.86 147.08,305.61 147.65,306.38" stroke="#000" stroke-width="1.15"/><path d="M74.45,306.38 C75.24,306.09 78.79,304.64 80.35,304.20 C81.91,303.76 84.79,303.58 86.15,303.10 C87.51,302.62 89.48,301.43 90.55,300.60 C91.62,299.77 93.28,298.55 94.15,296.90 C95.02,295.25 96.26,290.72 97.05,288.20 C97.84,285.68 99.36,280.53 100.05,278.00 C100.74,275.47 101.68,271.93 102.25,269.20 C102.82,266.47 103.88,260.46 104.35,257.50 C104.82,254.54 105.47,249.33 105.75,247.00 C106.03,244.67 106.18,243.89 106.45,240.00 C106.72,236.11 107.34,222.71 107.75,217.80 C108.16,212.89 109.14,206.24 109.55,203.20 C109.96,200.16 110.53,196.56 110.85,195.00 C111.17,193.44 111.66,191.50 111.95,191.50 C112.24,191.50 112.69,193.44 113.05,195.00 C113.41,196.56 114.05,200.75 114.65,203.20 C115.25,205.65 116.91,210.48 117.55,213.40 C118.19,216.32 119.01,221.55 119.45,225.10 C119.89,228.65 120.65,238.01 120.85,240.00 C121.05,241.99 120.80,238.83 120.95,240.00 C121.10,241.17 121.63,246.65 121.95,248.80 C122.27,250.95 122.96,254.74 123.35,256.10 C123.74,257.46 124.26,257.68 124.85,259.00 C125.44,260.32 126.91,263.27 127.75,266.00 C128.59,268.73 130.31,278.77 131.15,279.50 C131.99,280.23 133.44,272.29 134.05,271.50 C134.66,270.71 135.23,271.76 135.75,273.60 C136.27,275.44 137.36,282.19 137.95,285.30 C138.54,288.41 139.36,294.86 140.15,296.90 C140.94,298.94 142.78,299.34 143.85,300.60 C144.92,301.86 147.58,305.61 148.15,306.38" stroke="#2e6aa5" stroke-width="1.5"/><path d="M74.20,306.38 C74.99,306.09 78.54,304.64 80.10,304.20 C81.66,303.76 84.54,303.58 85.90,303.10 C87.26,302.62 89.23,301.43 90.30,300.60 C91.37,299.77 93.03,298.55 93.90,296.90 C94.77,295.25 96.01,290.72 96.80,288.20 C97.59,285.68 99.11,280.53 99.80,278.00 C100.49,275.47 101.43,271.93 102.00,269.20 C102.57,266.47 103.63,260.46 104.10,257.50 C104.57,254.54 105.19,249.60 105.50,247.00 C105.81,244.40 106.17,240.53 106.40,238.00 C106.63,235.47 106.92,231.13 107.20,228.00 C107.48,224.87 108.13,217.23 108.50,214.50 C108.87,211.77 109.61,208.71 110.00,207.50 C110.39,206.29 111.00,205.47 111.40,205.40 C111.80,205.33 112.51,206.32 113.00,207.00 C113.49,207.68 114.43,208.67 115.10,210.50 C115.77,212.33 117.40,217.97 118.00,220.70 C118.60,223.43 119.24,228.43 119.60,231.00 C119.96,233.57 120.42,237.63 120.70,240.00 C120.98,242.37 121.38,246.65 121.70,248.80 C122.02,250.95 122.71,254.74 123.10,256.10 C123.49,257.46 124.01,257.75 124.60,259.00 C125.19,260.25 126.66,262.97 127.50,265.50 C128.34,268.03 130.06,277.31 130.90,278.00 C131.74,278.69 133.19,271.29 133.80,270.70 C134.41,270.11 134.98,271.65 135.50,273.60 C136.02,275.55 137.11,282.19 137.70,285.30 C138.29,288.41 139.11,294.86 139.90,296.90 C140.69,298.94 142.53,299.34 143.60,300.60 C144.67,301.86 147.33,305.61 147.90,306.38" stroke="#c81e1e" stroke-width="1.7" stroke-dasharray="3.8 2.6"/></g>
<rect x="39.2" y="174.39" width="125.27" height="131.99" fill="none" stroke="#666" stroke-width="1"/>
<line x1="36.90" y1="306.38" x2="39.2" y2="306.38" stroke="#666" stroke-width="0.9"/>
<text transform="translate(19.84,310.88) scale(0.915,1)" font-size="11.7">0.0</text>
<line x1="36.90" y1="274.73" x2="39.2" y2="274.73" stroke="#666" stroke-width="0.9"/>
<text transform="translate(14.00,279.23) scale(0.915,1)" font-size="11.7">0.02</text>
<line x1="36.90" y1="241.28" x2="39.2" y2="241.28" stroke="#666" stroke-width="0.9"/>
<text transform="translate(13.78,245.78) scale(0.915,1)" font-size="11.7">0.04</text>
<line x1="36.90" y1="207.84" x2="39.2" y2="207.84" stroke="#666" stroke-width="0.9"/>
<text transform="translate(13.93,212.34) scale(0.915,1)" font-size="11.7">0.06</text>
<line x1="36.90" y1="174.39" x2="39.2" y2="174.39" stroke="#666" stroke-width="0.9"/>
<text transform="translate(13.93,178.89) scale(0.915,1)" font-size="11.7">0.08</text>
<line x1="70" y1="306.38" x2="70" y2="308.68" stroke="#666" stroke-width="0.9"/>
<text transform="translate(60.76,319.28) scale(0.94,1)" font-size="11.7">260</text>
<line x1="101.5" y1="306.38" x2="101.5" y2="308.68" stroke="#666" stroke-width="0.9"/>
<text transform="translate(92.26,319.28) scale(0.94,1)" font-size="11.7">280</text>
<line x1="133.2" y1="306.38" x2="133.2" y2="308.68" stroke="#666" stroke-width="0.9"/>
<text transform="translate(124.03,319.28) scale(0.94,1)" font-size="11.7">300</text>
<text transform="translate(86.50,332.18) scale(0.98,1)" font-size="10.8">tas (K)</text>
<text transform="translate(8.90,240.38) rotate(-90) translate(-10.12,0) scale(0.885,1)" font-size="11.2">PDF</text>
<text transform="translate(42.48,188.00) scale(0.975,1)" font-size="14.0" fill="#000">May</text>
<clipPath id="c_June"><rect x="212.19" y="174.4" width="125.26" height="132.06"/></clipPath>
<g clip-path="url(#c_June)" fill="none" stroke-linejoin="round"><path d="M280.00,214.00 C280.27,211.60 281.49,198.93 282.00,196.00 C282.51,193.07 283.33,191.87 283.80,192.00 C284.27,192.13 285.01,195.00 285.50,197.00 C285.99,199.00 286.90,204.47 287.50,207.00 C288.10,209.53 289.67,214.80 290.00,216.00" stroke="#c4c4c4" stroke-width="1.2"/><path d="M252.05,306.46 C252.54,306.07 254.78,304.09 255.75,303.50 C256.72,302.91 258.38,302.39 259.35,302.00 C260.32,301.61 262.26,301.33 263.05,300.60 C263.84,299.87 264.73,298.31 265.25,296.50 C265.77,294.69 266.55,288.76 266.95,287.00 C267.35,285.24 267.80,284.37 268.25,283.30 C268.70,282.23 269.78,280.68 270.35,279.00 C270.92,277.32 272.00,273.18 272.55,270.70 C273.10,268.22 273.97,263.32 274.45,260.40 C274.93,257.48 275.76,251.52 276.15,248.80 C276.54,246.08 276.92,244.11 277.35,240.00 C277.78,235.89 278.83,223.73 279.35,218.00 C279.87,212.27 280.85,201.00 281.25,197.00 C281.65,193.00 282.10,189.60 282.35,188.00 C282.60,186.40 282.92,185.00 283.15,185.00 C283.38,185.00 283.72,186.13 284.05,188.00 C284.38,189.87 285.14,195.67 285.65,199.00 C286.16,202.33 287.30,210.47 287.85,213.00 C288.40,215.53 289.27,217.45 289.75,218.00 C290.23,218.55 290.98,216.57 291.45,217.10 C291.92,217.63 292.78,220.01 293.25,222.00 C293.72,223.99 294.55,229.07 294.95,232.00 C295.35,234.93 296.00,241.48 296.25,244.00 C296.50,246.52 296.52,250.23 296.85,250.90 C297.18,251.57 298.20,249.87 298.75,249.00 C299.30,248.13 300.42,245.40 300.95,244.40 C301.48,243.40 302.26,241.11 302.75,241.50 C303.24,241.89 304.21,244.58 304.65,247.30 C305.09,250.02 305.66,257.42 306.05,261.90 C306.44,266.38 307.15,276.42 307.55,280.90 C307.95,285.38 308.37,292.97 309.05,295.50 C309.73,298.03 311.68,298.93 312.65,299.90 C313.62,300.87 315.28,301.93 316.35,302.80 C317.42,303.67 320.08,305.97 320.65,306.46" stroke="#000" stroke-width="1.15"/><path d="M252.55,306.46 C253.04,306.07 255.28,304.09 256.25,303.50 C257.22,302.91 258.88,302.39 259.85,302.00 C260.82,301.61 262.67,301.47 263.55,300.60 C264.43,299.73 265.77,297.15 266.45,295.50 C267.13,293.85 268.06,290.15 268.65,288.20 C269.24,286.25 270.26,283.23 270.85,280.90 C271.44,278.57 272.50,273.43 273.05,270.70 C273.60,267.97 274.47,263.32 274.95,260.40 C275.43,257.48 276.26,251.52 276.65,248.80 C277.04,246.08 277.42,244.13 277.85,240.00 C278.28,235.87 279.33,223.68 279.85,217.80 C280.37,211.92 281.35,200.14 281.75,195.90 C282.15,191.66 282.60,187.79 282.85,186.00 C283.10,184.21 283.42,182.50 283.65,182.50 C283.88,182.50 284.22,184.01 284.55,186.00 C284.88,187.99 285.64,193.93 286.15,197.40 C286.66,200.87 287.76,209.28 288.35,212.00 C288.94,214.72 290.00,217.23 290.55,217.80 C291.10,218.37 291.97,215.91 292.45,216.30 C292.93,216.69 293.72,218.94 294.15,220.70 C294.58,222.46 295.28,226.93 295.65,229.50 C296.02,232.07 296.47,237.47 296.95,240.00 C297.43,242.53 298.65,247.91 299.25,248.50 C299.85,249.09 300.92,245.33 301.45,244.40 C301.98,243.47 302.76,241.11 303.25,241.50 C303.74,241.89 304.71,244.58 305.15,247.30 C305.59,250.02 306.16,257.42 306.55,261.90 C306.94,266.38 307.65,276.42 308.05,280.90 C308.45,285.38 308.87,292.97 309.55,295.50 C310.23,298.03 312.18,298.93 313.15,299.90 C314.12,300.87 315.78,301.93 316.85,302.80 C317.92,303.67 320.58,305.97 321.15,306.46" stroke="#2e6aa5" stroke-width="1.5"/><path d="M252.30,306.46 C252.79,306.07 255.03,304.09 256.00,303.50 C256.97,302.91 258.63,302.39 259.60,302.00 C260.57,301.61 262.42,301.47 263.30,300.60 C264.18,299.73 265.52,297.15 266.20,295.50 C266.88,293.85 267.81,290.15 268.40,288.20 C268.99,286.25 270.01,283.23 270.60,280.90 C271.19,278.57 272.25,273.43 272.80,270.70 C273.35,267.97 274.22,263.32 274.70,260.40 C275.18,257.48 275.97,251.52 276.40,248.80 C276.83,246.08 277.47,243.57 277.90,240.00 C278.33,236.43 279.12,226.40 279.60,222.00 C280.08,217.60 280.99,210.00 281.50,207.00 C282.01,204.00 282.93,200.30 283.40,199.50 C283.87,198.70 284.57,200.12 285.00,201.00 C285.43,201.88 286.09,204.06 286.60,206.10 C287.11,208.14 288.21,214.54 288.80,216.30 C289.39,218.06 290.41,218.71 291.00,219.30 C291.59,219.89 292.67,219.21 293.20,220.70 C293.73,222.19 294.59,227.93 295.00,230.50 C295.41,233.07 295.86,237.93 296.30,240.00 C296.74,242.07 297.70,245.47 298.30,246.00 C298.90,246.53 300.17,244.60 300.80,244.00 C301.43,243.40 302.45,241.06 303.00,241.50 C303.55,241.94 304.46,244.58 304.90,247.30 C305.34,250.02 305.91,257.42 306.30,261.90 C306.69,266.38 307.40,276.42 307.80,280.90 C308.20,285.38 308.62,292.97 309.30,295.50 C309.98,298.03 311.93,298.93 312.90,299.90 C313.87,300.87 315.53,301.93 316.60,302.80 C317.67,303.67 320.33,305.97 320.90,306.46" stroke="#c81e1e" stroke-width="1.7" stroke-dasharray="3.8 2.6"/></g>
<rect x="212.19" y="174.4" width="125.26" height="132.06" fill="none" stroke="#666" stroke-width="1"/>
<line x1="209.89" y1="306.46" x2="212.19" y2="306.46" stroke="#666" stroke-width="0.9"/>
<text transform="translate(192.83,310.96) scale(0.915,1)" font-size="11.7">0.0</text>
<line x1="209.89" y1="274.79" x2="212.19" y2="274.79" stroke="#666" stroke-width="0.9"/>
<text transform="translate(186.99,279.29) scale(0.915,1)" font-size="11.7">0.02</text>
<line x1="209.89" y1="241.33" x2="212.19" y2="241.33" stroke="#666" stroke-width="0.9"/>
<text transform="translate(186.77,245.83) scale(0.915,1)" font-size="11.7">0.04</text>
<line x1="209.89" y1="207.87" x2="212.19" y2="207.87" stroke="#666" stroke-width="0.9"/>
<text transform="translate(186.92,212.37) scale(0.915,1)" font-size="11.7">0.06</text>
<line x1="209.89" y1="174.40" x2="212.19" y2="174.40" stroke="#666" stroke-width="0.9"/>
<text transform="translate(186.92,178.90) scale(0.915,1)" font-size="11.7">0.08</text>
<line x1="231.2" y1="306.46" x2="231.2" y2="308.76" stroke="#666" stroke-width="0.9"/>
<text transform="translate(221.96,319.36) scale(0.94,1)" font-size="11.7">260</text>
<line x1="267.4" y1="306.46" x2="267.4" y2="308.76" stroke="#666" stroke-width="0.9"/>
<text transform="translate(258.16,319.36) scale(0.94,1)" font-size="11.7">280</text>
<line x1="303.6" y1="306.46" x2="303.6" y2="308.76" stroke="#666" stroke-width="0.9"/>
<text transform="translate(294.43,319.36) scale(0.94,1)" font-size="11.7">300</text>
<text transform="translate(259.48,332.26) scale(0.98,1)" font-size="10.8">tas (K)</text>
<text transform="translate(181.89,240.43) rotate(-90) translate(-10.12,0) scale(0.885,1)" font-size="11.2">PDF</text>
<text transform="translate(217.09,188.00) scale(0.975,1)" font-size="14.0" fill="#000">June</text>
<clipPath id="c_July"><rect x="385.45" y="174.39" width="125.01" height="132.07"/></clipPath>
<g clip-path="url(#c_July)" fill="none" stroke-linejoin="round"><path d="M453.50,212.00 C453.70,210.40 454.60,202.40 455.00,200.00 C455.40,197.60 456.10,194.67 456.50,194.00 C456.90,193.33 457.60,194.20 458.00,195.00 C458.40,195.80 459.10,198.40 459.50,200.00 C459.90,201.60 460.60,205.27 461.00,207.00 C461.40,208.73 462.10,211.67 462.50,213.00 C462.90,214.33 463.53,216.13 464.00,217.00 C464.47,217.87 465.47,219.10 466.00,219.50 C466.53,219.90 467.47,220.07 468.00,220.00 C468.53,219.93 469.47,219.93 470.00,219.00 C470.53,218.07 471.47,214.60 472.00,213.00 C472.53,211.40 473.53,207.93 474.00,207.00 C474.47,206.07 475.10,205.20 475.50,206.00 C475.90,206.80 476.80,212.07 477.00,213.00" stroke="#c4c4c4" stroke-width="1.2"/><path d="M454.00,210.00 C454.20,208.80 455.10,202.67 455.50,201.00 C455.90,199.33 456.60,197.77 457.00,197.50 C457.40,197.23 458.10,198.13 458.50,199.00 C458.90,199.87 459.60,202.67 460.00,204.00 C460.40,205.33 461.10,207.67 461.50,209.00 C461.90,210.33 462.53,212.80 463.00,214.00 C463.47,215.20 464.40,217.33 465.00,218.00 C465.60,218.67 466.83,218.67 467.50,219.00 C468.17,219.33 469.40,221.03 470.00,220.50 C470.60,219.97 471.47,216.40 472.00,215.00 C472.53,213.60 473.47,210.53 474.00,210.00 C474.53,209.47 475.73,210.87 476.00,211.00" stroke="#c4c4c4" stroke-width="1.2"/><path d="M455.00,204.00 C455.24,203.40 456.33,199.83 456.80,199.50 C457.27,199.17 458.01,200.43 458.50,201.50 C458.99,202.57 459.97,205.97 460.50,207.50 C461.03,209.03 461.90,211.73 462.50,213.00 C463.10,214.27 464.67,216.47 465.00,217.00" stroke="#c4c4c4" stroke-width="1.2"/><path d="M422.85,306.46 C423.44,306.16 426.08,304.69 427.25,304.20 C428.42,303.71 430.58,303.77 431.65,302.80 C432.72,301.83 434.28,298.46 435.25,296.90 C436.22,295.34 438.42,292.15 438.95,291.10 C439.48,290.05 438.96,290.36 439.25,289.00 C439.54,287.64 440.68,283.17 441.15,280.90 C441.62,278.63 442.36,273.95 442.75,272.00 C443.14,270.05 443.58,267.65 444.05,266.30 C444.52,264.95 445.76,263.01 446.25,261.90 C446.74,260.79 447.46,258.59 447.75,258.00 C448.04,257.41 448.17,258.73 448.45,257.50 C448.73,256.27 449.54,251.40 449.85,248.80 C450.16,246.20 450.46,240.84 450.75,238.00 C451.04,235.16 451.76,230.70 452.05,227.50 C452.34,224.30 452.66,217.67 452.95,214.00 C453.24,210.33 453.94,203.07 454.25,200.00 C454.56,196.93 455.00,192.57 455.25,191.00 C455.50,189.43 455.91,188.27 456.15,188.20 C456.39,188.13 456.81,189.33 457.05,190.50 C457.29,191.67 457.67,195.13 457.95,197.00 C458.23,198.87 458.74,202.43 459.15,204.50 C459.56,206.57 460.54,210.50 461.05,212.50 C461.56,214.50 462.48,218.19 462.95,219.50 C463.42,220.81 464.11,221.99 464.55,222.30 C464.99,222.61 465.78,221.68 466.25,221.80 C466.72,221.92 467.58,222.80 468.05,223.20 C468.52,223.60 469.28,225.63 469.75,224.80 C470.22,223.97 471.08,219.11 471.55,217.00 C472.02,214.89 472.82,210.60 473.25,209.00 C473.68,207.40 474.39,205.13 474.75,205.00 C475.11,204.87 475.68,206.27 475.95,208.00 C476.22,209.73 476.56,214.80 476.75,218.00 C476.94,221.20 477.22,228.80 477.35,232.00 C477.48,235.20 477.62,238.99 477.75,242.00 C477.88,245.01 478.11,250.97 478.35,254.60 C478.59,258.23 479.26,265.31 479.55,269.20 C479.84,273.09 480.22,280.00 480.55,283.80 C480.88,287.60 481.37,295.37 482.05,297.70 C482.73,300.03 484.68,300.43 485.65,301.30 C486.62,302.17 488.28,303.51 489.35,304.20 C490.42,304.89 493.08,306.16 493.65,306.46" stroke="#000" stroke-width="1.15"/><path d="M423.35,306.46 C423.94,306.16 426.58,304.69 427.75,304.20 C428.92,303.71 431.08,303.77 432.15,302.80 C433.22,301.83 434.78,298.46 435.75,296.90 C436.72,295.34 438.57,292.85 439.45,291.10 C440.33,289.35 441.58,285.95 442.35,283.80 C443.12,281.65 444.57,277.33 445.25,275.00 C445.93,272.67 446.96,268.63 447.45,266.30 C447.94,263.97 448.56,259.83 448.95,257.50 C449.34,255.17 450.04,251.40 450.35,248.80 C450.66,246.20 450.96,240.84 451.25,238.00 C451.54,235.16 452.26,230.79 452.55,227.50 C452.84,224.21 453.14,217.10 453.45,213.30 C453.76,209.50 454.53,202.17 454.85,199.00 C455.17,195.83 455.61,191.25 455.85,189.50 C456.09,187.75 456.42,185.97 456.65,185.90 C456.88,185.83 457.31,187.65 457.55,189.00 C457.79,190.35 458.17,194.03 458.45,196.00 C458.73,197.97 459.24,201.75 459.65,203.80 C460.06,205.85 460.98,209.63 461.55,211.40 C462.12,213.17 463.38,216.15 463.95,217.10 C464.52,218.05 465.41,217.87 465.85,218.50 C466.29,219.13 466.69,220.88 467.25,221.80 C467.81,222.72 469.45,225.91 470.05,225.40 C470.65,224.89 471.36,220.00 471.75,218.00 C472.14,216.00 472.62,212.33 472.95,210.40 C473.28,208.47 473.93,204.81 474.25,203.50 C474.57,202.19 475.07,200.53 475.35,200.60 C475.63,200.67 476.12,202.48 476.35,204.00 C476.58,205.52 476.88,209.60 477.05,212.00 C477.22,214.40 477.50,218.27 477.65,222.00 C477.80,225.73 477.99,235.65 478.15,240.00 C478.31,244.35 478.60,250.71 478.85,254.60 C479.10,258.49 479.76,265.31 480.05,269.20 C480.34,273.09 480.72,280.00 481.05,283.80 C481.38,287.60 481.87,295.37 482.55,297.70 C483.23,300.03 485.18,300.43 486.15,301.30 C487.12,302.17 488.78,303.51 489.85,304.20 C490.92,304.89 493.58,306.16 494.15,306.46" stroke="#2e6aa5" stroke-width="1.5"/><path d="M423.10,306.46 C423.69,306.16 426.33,304.69 427.50,304.20 C428.67,303.71 430.83,303.77 431.90,302.80 C432.97,301.83 434.53,298.46 435.50,296.90 C436.47,295.34 438.32,292.85 439.20,291.10 C440.08,289.35 441.33,285.95 442.10,283.80 C442.87,281.65 444.32,277.33 445.00,275.00 C445.68,272.67 446.71,268.63 447.20,266.30 C447.69,263.97 448.31,259.83 448.70,257.50 C449.09,255.17 449.74,251.53 450.10,248.80 C450.46,246.07 451.11,240.09 451.40,237.00 C451.69,233.91 451.99,228.64 452.30,225.60 C452.61,222.56 453.33,216.73 453.70,214.20 C454.07,211.67 454.72,208.20 455.10,206.60 C455.48,205.00 456.10,202.32 456.55,202.20 C457.00,202.08 457.94,204.45 458.45,205.67 C458.96,206.89 459.84,209.85 460.35,211.37 C460.86,212.89 461.68,215.80 462.25,217.07 C462.82,218.34 463.97,220.08 464.60,220.90 C465.23,221.72 466.36,222.79 467.00,223.20 C467.64,223.61 468.83,224.69 469.40,224.00 C469.97,223.31 470.86,219.56 471.30,218.00 C471.74,216.44 472.33,213.43 472.70,212.30 C473.07,211.17 473.73,209.25 474.10,209.50 C474.47,209.75 475.18,212.43 475.50,214.20 C475.82,215.97 476.26,220.43 476.50,222.80 C476.74,225.17 477.11,229.44 477.30,232.00 C477.49,234.56 477.73,238.99 477.90,242.00 C478.07,245.01 478.35,250.97 478.60,254.60 C478.85,258.23 479.51,265.31 479.80,269.20 C480.09,273.09 480.47,280.00 480.80,283.80 C481.13,287.60 481.62,295.37 482.30,297.70 C482.98,300.03 484.93,300.43 485.90,301.30 C486.87,302.17 488.53,303.51 489.60,304.20 C490.67,304.89 493.33,306.16 493.90,306.46" stroke="#c81e1e" stroke-width="1.7" stroke-dasharray="3.8 2.6"/></g>
<rect x="385.45" y="174.39" width="125.01" height="132.07" fill="none" stroke="#666" stroke-width="1"/>
<line x1="383.15" y1="306.46" x2="385.45" y2="306.46" stroke="#666" stroke-width="0.9"/>
<text transform="translate(366.09,310.96) scale(0.915,1)" font-size="11.7">0.0</text>
<line x1="383.15" y1="274.79" x2="385.45" y2="274.79" stroke="#666" stroke-width="0.9"/>
<text transform="translate(360.25,279.29) scale(0.915,1)" font-size="11.7">0.02</text>
<line x1="383.15" y1="241.32" x2="385.45" y2="241.32" stroke="#666" stroke-width="0.9"/>
<text transform="translate(360.03,245.82) scale(0.915,1)" font-size="11.7">0.04</text>
<line x1="383.15" y1="207.86" x2="385.45" y2="207.86" stroke="#666" stroke-width="0.9"/>
<text transform="translate(360.18,212.36) scale(0.915,1)" font-size="11.7">0.06</text>
<line x1="383.15" y1="174.39" x2="385.45" y2="174.39" stroke="#666" stroke-width="0.9"/>
<text transform="translate(360.18,178.89) scale(0.915,1)" font-size="11.7">0.08</text>
<line x1="396.4" y1="306.46" x2="396.4" y2="308.76" stroke="#666" stroke-width="0.9"/>
<text transform="translate(387.16,319.36) scale(0.94,1)" font-size="11.7">260</text>
<line x1="434.9" y1="306.46" x2="434.9" y2="308.76" stroke="#666" stroke-width="0.9"/>
<text transform="translate(425.66,319.36) scale(0.94,1)" font-size="11.7">280</text>
<line x1="473.1" y1="306.46" x2="473.1" y2="308.76" stroke="#666" stroke-width="0.9"/>
<text transform="translate(463.93,319.36) scale(0.94,1)" font-size="11.7">300</text>
<text transform="translate(432.62,332.26) scale(0.98,1)" font-size="10.8">tas (K)</text>
<text transform="translate(355.15,240.42) rotate(-90) translate(-10.12,0) scale(0.885,1)" font-size="11.2">PDF</text>
<text transform="translate(390.79,188.00) scale(0.975,1)" font-size="14.0" fill="#000">July</text>
<clipPath id="c_August"><rect x="558.46" y="174.39" width="124.84" height="132.07"/></clipPath>
<g clip-path="url(#c_August)" fill="none" stroke-linejoin="round"><path d="M628.00,222.00 C628.33,220.27 629.90,211.33 630.50,209.00 C631.10,206.67 631.97,204.57 632.50,204.50 C633.03,204.43 633.97,207.57 634.50,208.50 C635.03,209.43 635.97,210.83 636.50,211.50 C637.03,212.17 637.97,212.83 638.50,213.50 C639.03,214.17 640.03,215.37 640.50,216.50 C640.97,217.63 641.80,221.27 642.00,222.00" stroke="#c4c4c4" stroke-width="1.2"/><path d="M629.00,216.00 C629.33,214.93 630.90,209.20 631.50,208.00 C632.10,206.80 632.97,206.60 633.50,207.00 C634.03,207.40 634.97,210.13 635.50,211.00 C636.03,211.87 636.97,212.90 637.50,213.50 C638.03,214.10 639.01,214.77 639.50,215.50 C639.99,216.23 640.80,217.60 641.20,219.00 C641.60,220.40 642.33,225.07 642.50,226.00" stroke="#c4c4c4" stroke-width="1.2"/><path d="M633.00,207.00 C633.27,207.40 634.47,209.20 635.00,210.00 C635.53,210.80 636.47,212.13 637.00,213.00 C637.53,213.87 638.47,215.57 639.00,216.50 C639.53,217.43 640.73,219.53 641.00,220.00" stroke="#c4c4c4" stroke-width="1.2"/><path d="M600.95,306.46 C601.64,306.13 604.88,304.69 606.15,304.00 C607.42,303.31 609.38,302.43 610.45,301.30 C611.52,300.17 613.27,297.25 614.15,295.50 C615.03,293.75 616.37,290.73 617.05,288.20 C617.73,285.67 618.66,279.42 619.25,276.50 C619.84,273.58 620.86,269.42 621.45,266.30 C622.04,263.18 623.06,256.61 623.65,253.10 C624.24,249.59 625.37,243.75 625.85,240.00 C626.33,236.25 626.77,229.00 627.25,225.00 C627.73,221.00 628.94,213.00 629.45,210.00 C629.96,207.00 630.72,203.79 631.05,202.50 C631.38,201.21 631.71,200.23 631.95,200.30 C632.19,200.37 632.60,201.84 632.85,203.00 C633.10,204.16 633.42,207.27 633.85,209.00 C634.28,210.73 635.37,214.67 636.05,216.00 C636.73,217.33 638.27,218.07 638.95,219.00 C639.63,219.93 640.67,221.27 641.15,223.00 C641.63,224.73 642.26,230.36 642.55,232.00 C642.84,233.64 642.98,235.70 643.35,235.30 C643.72,234.90 644.76,231.71 645.35,229.00 C645.94,226.29 647.16,218.07 647.75,215.00 C648.34,211.93 649.35,207.47 649.75,206.00 C650.15,204.53 650.48,203.47 650.75,204.00 C651.02,204.53 651.51,207.20 651.75,210.00 C651.99,212.80 652.38,221.00 652.55,225.00 C652.72,229.00 652.92,236.05 653.05,240.00 C653.18,243.95 653.39,250.71 653.55,254.60 C653.71,258.49 654.05,265.31 654.25,269.20 C654.45,273.09 654.76,280.29 655.05,283.80 C655.34,287.31 655.77,293.26 656.45,295.50 C657.13,297.74 659.18,299.53 660.15,300.60 C661.12,301.67 662.68,302.72 663.75,303.50 C664.82,304.28 667.56,306.07 668.15,306.46" stroke="#000" stroke-width="1.15"/><path d="M601.45,306.46 C602.14,306.13 605.38,304.69 606.65,304.00 C607.92,303.31 609.88,302.43 610.95,301.30 C612.02,300.17 613.77,297.25 614.65,295.50 C615.53,293.75 616.87,290.73 617.55,288.20 C618.23,285.67 619.16,279.42 619.75,276.50 C620.34,273.58 621.36,269.42 621.95,266.30 C622.54,263.18 623.56,256.61 624.15,253.10 C624.74,249.59 625.87,243.73 626.35,240.00 C626.83,236.27 627.27,229.03 627.75,225.10 C628.23,221.17 629.46,213.31 629.95,210.50 C630.44,207.69 631.12,205.17 631.45,204.00 C631.78,202.83 632.20,201.70 632.45,201.70 C632.70,201.70 633.10,202.83 633.35,204.00 C633.60,205.17 633.92,208.66 634.35,210.50 C634.78,212.34 635.87,216.44 636.55,217.80 C637.23,219.16 638.77,219.93 639.45,220.70 C640.13,221.47 641.13,222.04 641.65,223.60 C642.17,225.16 643.00,230.84 643.35,232.40 C643.70,233.96 643.89,235.69 644.25,235.30 C644.61,234.91 645.52,232.22 646.05,229.50 C646.58,226.78 647.70,218.41 648.25,214.90 C648.80,211.39 649.76,205.44 650.15,203.20 C650.54,200.96 650.88,197.71 651.15,198.10 C651.42,198.49 651.90,202.70 652.15,206.10 C652.40,209.50 652.85,219.08 653.05,223.60 C653.25,228.12 653.52,235.87 653.65,240.00 C653.78,244.13 653.90,250.71 654.05,254.60 C654.20,258.49 654.55,265.31 654.75,269.20 C654.95,273.09 655.26,280.29 655.55,283.80 C655.84,287.31 656.27,293.26 656.95,295.50 C657.63,297.74 659.68,299.53 660.65,300.60 C661.62,301.67 663.18,302.72 664.25,303.50 C665.32,304.28 668.06,306.07 668.65,306.46" stroke="#2e6aa5" stroke-width="1.5"/><path d="M601.20,306.46 C601.89,306.13 605.13,304.69 606.40,304.00 C607.67,303.31 609.63,302.43 610.70,301.30 C611.77,300.17 613.52,297.25 614.40,295.50 C615.28,293.75 616.62,290.73 617.30,288.20 C617.98,285.67 618.91,279.42 619.50,276.50 C620.09,273.58 621.11,269.42 621.70,266.30 C622.29,263.18 623.31,256.61 623.90,253.10 C624.49,249.59 625.61,243.35 626.10,240.00 C626.59,236.65 627.21,230.96 627.60,228.00 C627.99,225.04 628.52,220.23 629.00,217.80 C629.48,215.37 630.52,210.19 631.20,209.80 C631.88,209.41 633.33,213.45 634.10,214.90 C634.87,216.35 636.23,219.54 637.00,220.70 C637.77,221.86 639.22,222.33 639.90,223.60 C640.58,224.87 641.55,228.83 642.10,230.20 C642.65,231.57 643.41,234.58 644.00,233.90 C644.59,233.22 645.87,227.45 646.50,225.10 C647.13,222.75 648.21,218.34 648.70,216.30 C649.19,214.26 649.81,209.60 650.20,209.80 C650.59,210.00 651.29,215.37 651.60,217.80 C651.91,220.23 652.30,225.04 652.50,228.00 C652.70,230.96 652.93,236.45 653.10,240.00 C653.27,243.55 653.61,250.71 653.80,254.60 C653.99,258.49 654.30,265.31 654.50,269.20 C654.70,273.09 655.01,280.29 655.30,283.80 C655.59,287.31 656.02,293.26 656.70,295.50 C657.38,297.74 659.43,299.53 660.40,300.60 C661.37,301.67 662.93,302.72 664.00,303.50 C665.07,304.28 667.81,306.07 668.40,306.46" stroke="#c81e1e" stroke-width="1.7" stroke-dasharray="3.8 2.6"/></g>
<rect x="558.46" y="174.39" width="124.84" height="132.07" fill="none" stroke="#666" stroke-width="1"/>
<line x1="556.16" y1="306.46" x2="558.46" y2="306.46" stroke="#666" stroke-width="0.9"/>
<text transform="translate(539.10,310.96) scale(0.915,1)" font-size="11.7">0.0</text>
<line x1="556.16" y1="274.79" x2="558.46" y2="274.79" stroke="#666" stroke-width="0.9"/>
<text transform="translate(533.26,279.29) scale(0.915,1)" font-size="11.7">0.02</text>
<line x1="556.16" y1="241.32" x2="558.46" y2="241.32" stroke="#666" stroke-width="0.9"/>
<text transform="translate(533.04,245.82) scale(0.915,1)" font-size="11.7">0.04</text>
<line x1="556.16" y1="207.86" x2="558.46" y2="207.86" stroke="#666" stroke-width="0.9"/>
<text transform="translate(533.19,212.36) scale(0.915,1)" font-size="11.7">0.06</text>
<line x1="556.16" y1="174.39" x2="558.46" y2="174.39" stroke="#666" stroke-width="0.9"/>
<text transform="translate(533.19,178.89) scale(0.915,1)" font-size="11.7">0.08</text>
<line x1="577" y1="306.46" x2="577" y2="308.76" stroke="#666" stroke-width="0.9"/>
<text transform="translate(567.76,319.36) scale(0.94,1)" font-size="11.7">260</text>
<line x1="613" y1="306.46" x2="613" y2="308.76" stroke="#666" stroke-width="0.9"/>
<text transform="translate(603.76,319.36) scale(0.94,1)" font-size="11.7">280</text>
<line x1="649" y1="306.46" x2="649" y2="308.76" stroke="#666" stroke-width="0.9"/>
<text transform="translate(639.83,319.36) scale(0.94,1)" font-size="11.7">300</text>
<text transform="translate(605.54,332.26) scale(0.98,1)" font-size="10.8">tas (K)</text>
<text transform="translate(528.16,240.42) rotate(-90) translate(-10.12,0) scale(0.885,1)" font-size="11.2">PDF</text>
<text transform="translate(564.37,188.00) scale(0.975,1)" font-size="14.0" fill="#000">August</text>
<clipPath id="c_September"><rect x="39.2" y="345.59" width="125.27" height="131.31"/></clipPath>
<g clip-path="url(#c_September)" fill="none" stroke-linejoin="round"><path d="M112.00,393.00 C112.27,391.40 113.53,383.13 114.00,381.00 C114.47,378.87 115.10,377.00 115.50,377.00 C115.90,377.00 116.53,379.27 117.00,381.00 C117.47,382.73 118.73,388.80 119.00,390.00" stroke="#c4c4c4" stroke-width="1.2"/><path d="M87.15,476.90 C87.72,476.49 90.38,474.80 91.45,473.80 C92.52,472.80 94.27,470.57 95.15,469.40 C96.03,468.23 97.41,466.56 98.05,465.00 C98.69,463.44 99.46,460.03 99.95,457.70 C100.44,455.37 101.23,450.22 101.75,447.50 C102.27,444.78 103.28,440.02 103.85,437.30 C104.42,434.58 105.46,429.83 106.05,427.10 C106.64,424.37 107.76,419.08 108.25,416.80 C108.74,414.52 109.39,412.24 109.75,410.00 C110.11,407.76 110.56,403.20 110.95,400.00 C111.34,396.80 112.28,388.93 112.65,386.00 C113.02,383.07 113.47,379.60 113.75,378.00 C114.03,376.40 114.46,374.00 114.75,374.00 C115.04,374.00 115.62,376.40 115.95,378.00 C116.28,379.60 116.81,384.20 117.25,386.00 C117.69,387.80 118.74,390.37 119.25,391.50 C119.76,392.63 120.64,393.50 121.05,394.50 C121.46,395.50 122.07,397.60 122.35,399.00 C122.63,400.40 122.92,403.20 123.15,405.00 C123.38,406.80 123.81,410.74 124.05,412.50 C124.29,414.26 124.64,417.87 124.95,418.20 C125.26,418.53 125.94,415.89 126.35,415.00 C126.76,414.11 127.62,411.03 128.05,411.50 C128.48,411.97 128.98,416.62 129.55,418.50 C130.12,420.38 131.68,425.43 132.35,425.60 C133.02,425.77 134.10,421.68 134.55,419.80 C135.00,417.92 135.50,412.67 135.75,411.50 C136.00,410.33 136.22,408.73 136.45,411.00 C136.68,413.27 137.12,423.63 137.45,428.50 C137.78,433.37 138.56,442.43 138.95,447.50 C139.34,452.57 139.76,463.19 140.35,466.50 C140.94,469.81 142.47,470.91 143.35,472.30 C144.23,473.69 146.47,476.29 146.95,476.90" stroke="#000" stroke-width="1.15"/><path d="M87.65,476.90 C88.22,476.49 90.88,474.80 91.95,473.80 C93.02,472.80 94.77,470.57 95.65,469.40 C96.53,468.23 97.91,466.56 98.55,465.00 C99.19,463.44 99.96,460.03 100.45,457.70 C100.94,455.37 101.73,450.22 102.25,447.50 C102.77,444.78 103.78,440.02 104.35,437.30 C104.92,434.58 105.96,429.83 106.55,427.10 C107.14,424.37 108.32,418.95 108.75,416.80 C109.18,414.65 109.42,413.17 109.75,411.00 C110.08,408.83 110.80,403.85 111.25,400.50 C111.70,397.15 112.75,389.17 113.15,385.90 C113.55,382.63 113.96,378.05 114.25,376.00 C114.54,373.95 115.06,370.50 115.35,370.50 C115.64,370.50 116.16,374.33 116.45,376.00 C116.74,377.67 117.15,380.71 117.55,383.00 C117.95,385.29 118.93,391.13 119.45,393.20 C119.97,395.27 121.02,396.94 121.45,398.50 C121.88,400.06 122.37,403.23 122.65,404.90 C122.93,406.57 123.34,409.79 123.55,411.00 C123.76,412.21 123.98,413.20 124.25,414.00 C124.52,414.80 125.18,416.81 125.55,417.00 C125.92,417.19 126.62,415.47 127.05,415.40 C127.48,415.33 128.36,415.91 128.75,416.50 C129.14,417.09 129.40,418.59 129.95,419.80 C130.50,421.01 132.17,425.57 132.85,425.60 C133.53,425.63 134.65,421.95 135.05,420.00 C135.45,418.05 135.65,412.63 135.85,411.00 C136.05,409.37 136.36,407.67 136.55,407.80 C136.74,407.93 137.06,409.57 137.25,412.00 C137.44,414.43 137.66,421.27 137.95,426.00 C138.24,430.73 139.06,442.10 139.45,447.50 C139.84,452.90 140.26,463.19 140.85,466.50 C141.44,469.81 142.97,470.91 143.85,472.30 C144.73,473.69 146.97,476.29 147.45,476.90" stroke="#2e6aa5" stroke-width="1.5"/><path d="M87.40,476.90 C87.97,476.49 90.63,474.80 91.70,473.80 C92.77,472.80 94.52,470.57 95.40,469.40 C96.28,468.23 97.66,466.56 98.30,465.00 C98.94,463.44 99.71,460.03 100.20,457.70 C100.69,455.37 101.48,450.22 102.00,447.50 C102.52,444.78 103.53,440.02 104.10,437.30 C104.67,434.58 105.71,429.83 106.30,427.10 C106.89,424.37 108.01,419.08 108.50,416.80 C108.99,414.52 109.64,412.24 110.00,410.00 C110.36,407.76 110.81,403.07 111.20,400.00 C111.59,396.93 112.53,389.40 112.90,387.00 C113.27,384.60 113.71,382.93 114.00,382.00 C114.29,381.07 114.77,379.80 115.10,380.00 C115.43,380.20 116.11,382.33 116.50,383.50 C116.89,384.67 117.51,387.12 118.00,388.80 C118.49,390.48 119.61,393.77 120.20,396.10 C120.79,398.43 121.89,403.91 122.40,406.30 C122.91,408.69 123.61,412.57 124.00,414.00 C124.39,415.43 124.93,416.81 125.30,417.00 C125.67,417.19 126.37,415.47 126.80,415.40 C127.23,415.33 128.11,415.91 128.50,416.50 C128.89,417.09 129.15,418.59 129.70,419.80 C130.25,421.01 131.92,425.60 132.60,425.60 C133.28,425.60 134.35,421.68 134.80,419.80 C135.25,417.92 135.75,412.67 136.00,411.50 C136.25,410.33 136.47,408.73 136.70,411.00 C136.93,413.27 137.37,423.63 137.70,428.50 C138.03,433.37 138.81,442.43 139.20,447.50 C139.59,452.57 140.01,463.19 140.60,466.50 C141.19,469.81 142.72,470.91 143.60,472.30 C144.48,473.69 146.72,476.29 147.20,476.90" stroke="#c81e1e" stroke-width="1.7" stroke-dasharray="3.8 2.6"/></g>
<rect x="39.2" y="345.59" width="125.27" height="131.31" fill="none" stroke="#666" stroke-width="1"/>
<line x1="36.90" y1="476.90" x2="39.2" y2="476.90" stroke="#666" stroke-width="0.9"/>
<text transform="translate(19.84,481.40) scale(0.915,1)" font-size="11.7">0.0</text>
<line x1="36.90" y1="445.42" x2="39.2" y2="445.42" stroke="#666" stroke-width="0.9"/>
<text transform="translate(14.00,449.92) scale(0.915,1)" font-size="11.7">0.02</text>
<line x1="36.90" y1="412.14" x2="39.2" y2="412.14" stroke="#666" stroke-width="0.9"/>
<text transform="translate(13.78,416.64) scale(0.915,1)" font-size="11.7">0.04</text>
<line x1="36.90" y1="378.87" x2="39.2" y2="378.87" stroke="#666" stroke-width="0.9"/>
<text transform="translate(13.93,383.37) scale(0.915,1)" font-size="11.7">0.06</text>
<line x1="36.90" y1="345.59" x2="39.2" y2="345.59" stroke="#666" stroke-width="0.9"/>
<text transform="translate(13.93,350.09) scale(0.915,1)" font-size="11.7">0.08</text>
<line x1="39.2" y1="476.9" x2="39.2" y2="479.20" stroke="#666" stroke-width="0.9"/>
<text transform="translate(29.96,489.80) scale(0.94,1)" font-size="11.7">240</text>
<line x1="71.6" y1="476.9" x2="71.6" y2="479.20" stroke="#666" stroke-width="0.9"/>
<text transform="translate(62.36,489.80) scale(0.94,1)" font-size="11.7">260</text>
<line x1="103.7" y1="476.9" x2="103.7" y2="479.20" stroke="#666" stroke-width="0.9"/>
<text transform="translate(94.46,489.80) scale(0.94,1)" font-size="11.7">280</text>
<line x1="135.4" y1="476.9" x2="135.4" y2="479.20" stroke="#666" stroke-width="0.9"/>
<text transform="translate(126.23,489.80) scale(0.94,1)" font-size="11.7">300</text>
<text transform="translate(86.50,502.70) scale(0.98,1)" font-size="10.8">tas (K)</text>
<text transform="translate(8.90,411.25) rotate(-90) translate(-10.12,0) scale(0.885,1)" font-size="11.2">PDF</text>
<text transform="translate(43.98,357.00) scale(0.975,1)" font-size="14.0" fill="#000">September</text>
<clipPath id="c_October"><rect x="212.19" y="343.3" width="125.26" height="131.60"/></clipPath>
<g clip-path="url(#c_October)" fill="none" stroke-linejoin="round"><path d="M286.50,392.00 C286.70,390.93 287.63,385.47 288.00,384.00 C288.37,382.53 288.95,380.87 289.30,381.00 C289.65,381.13 290.24,383.00 290.60,385.00 C290.96,387.00 291.81,394.53 292.00,396.00" stroke="#c4c4c4" stroke-width="1.2"/><path d="M249.85,474.90 C250.44,474.67 253.08,473.72 254.25,473.20 C255.42,472.68 257.48,471.68 258.65,471.00 C259.82,470.32 261.98,468.97 263.05,468.10 C264.12,467.23 265.78,465.57 266.65,464.50 C267.52,463.43 268.87,461.30 269.55,460.10 C270.23,458.90 271.16,457.11 271.75,455.50 C272.34,453.89 273.36,450.00 273.95,448.00 C274.54,446.00 275.70,441.77 276.15,440.50 C276.60,439.23 277.00,439.37 277.35,438.50 C277.70,437.63 278.32,435.79 278.75,434.00 C279.18,432.21 280.02,427.07 280.55,425.10 C281.08,423.13 282.22,421.21 282.75,419.20 C283.28,417.19 284.07,412.96 284.55,410.00 C285.03,407.04 285.92,399.67 286.35,397.00 C286.78,394.33 287.42,391.36 287.75,390.00 C288.08,388.64 288.56,386.80 288.85,386.80 C289.14,386.80 289.60,388.44 289.95,390.00 C290.30,391.56 291.10,395.97 291.45,398.50 C291.80,401.03 292.26,406.43 292.55,409.00 C292.84,411.57 293.21,415.91 293.65,417.80 C294.09,419.69 295.30,422.84 295.85,423.20 C296.40,423.56 297.26,421.55 297.75,420.50 C298.24,419.45 299.12,415.23 299.55,415.30 C299.98,415.37 300.56,418.92 300.95,421.00 C301.34,423.08 301.96,428.02 302.45,430.90 C302.94,433.78 304.06,440.45 304.65,442.60 C305.24,444.75 306.26,446.61 306.85,447.00 C307.44,447.39 308.46,446.67 309.05,445.50 C309.64,444.33 310.73,440.27 311.25,438.20 C311.77,436.13 312.56,430.39 312.95,430.00 C313.34,429.61 313.80,432.26 314.15,435.30 C314.50,438.34 315.07,448.52 315.55,452.80 C316.03,457.08 317.16,464.45 317.75,467.40 C318.34,470.35 319.66,473.90 319.95,474.90" stroke="#000" stroke-width="1.15"/><path d="M250.35,474.90 C250.94,474.67 253.58,473.72 254.75,473.20 C255.92,472.68 257.98,471.68 259.15,471.00 C260.32,470.32 262.48,468.97 263.55,468.10 C264.62,467.23 266.28,465.57 267.15,464.50 C268.02,463.43 269.37,461.46 270.05,460.10 C270.73,458.74 271.66,456.25 272.25,454.30 C272.84,452.35 273.86,447.65 274.45,445.50 C275.04,443.35 276.06,439.95 276.65,438.20 C277.24,436.45 278.26,434.15 278.85,432.40 C279.44,430.65 280.46,426.86 281.05,425.10 C281.64,423.34 282.72,421.21 283.25,419.20 C283.78,417.19 284.76,411.36 285.05,410.00 C285.34,408.64 285.17,412.09 285.45,409.00 C285.73,405.91 286.78,390.93 287.15,386.80 C287.52,382.67 288.00,379.79 288.25,378.00 C288.50,376.21 288.84,373.40 289.05,373.40 C289.26,373.40 289.60,376.21 289.85,378.00 C290.10,379.79 290.47,382.67 290.95,386.80 C291.43,390.93 293.02,404.77 293.45,409.00 C293.88,413.23 293.76,416.42 294.15,418.50 C294.54,420.58 295.80,424.13 296.35,424.60 C296.90,425.07 297.76,422.95 298.25,422.00 C298.74,421.05 299.62,417.49 300.05,417.50 C300.48,417.51 301.06,420.31 301.45,422.10 C301.84,423.89 302.46,428.17 302.95,430.90 C303.44,433.63 304.56,440.45 305.15,442.60 C305.74,444.75 306.76,446.61 307.35,447.00 C307.94,447.39 308.96,446.70 309.55,445.50 C310.14,444.30 311.23,440.20 311.75,438.00 C312.27,435.80 313.06,429.40 313.45,429.00 C313.84,428.60 314.30,431.83 314.65,435.00 C315.00,438.17 315.57,448.48 316.05,452.80 C316.53,457.12 317.66,464.45 318.25,467.40 C318.84,470.35 320.16,473.90 320.45,474.90" stroke="#2e6aa5" stroke-width="1.5"/><path d="M250.10,474.90 C250.69,474.67 253.33,473.72 254.50,473.20 C255.67,472.68 257.73,471.68 258.90,471.00 C260.07,470.32 262.23,468.97 263.30,468.10 C264.37,467.23 266.03,465.57 266.90,464.50 C267.77,463.43 269.12,461.46 269.80,460.10 C270.48,458.74 271.41,456.25 272.00,454.30 C272.59,452.35 273.61,447.65 274.20,445.50 C274.79,443.35 275.81,439.95 276.40,438.20 C276.99,436.45 278.01,434.15 278.60,432.40 C279.19,430.65 280.21,426.86 280.80,425.10 C281.39,423.34 282.47,421.21 283.00,419.20 C283.53,417.19 284.32,412.96 284.80,410.00 C285.28,407.04 286.17,399.67 286.60,397.00 C287.03,394.33 287.67,391.36 288.00,390.00 C288.33,388.64 288.81,386.80 289.10,386.80 C289.39,386.80 289.85,388.44 290.20,390.00 C290.55,391.56 291.35,395.97 291.70,398.50 C292.05,401.03 292.51,406.43 292.80,409.00 C293.09,411.57 293.46,415.91 293.90,417.80 C294.34,419.69 295.55,422.77 296.10,423.20 C296.65,423.63 297.51,421.76 298.00,421.00 C298.49,420.24 299.37,417.35 299.80,417.50 C300.23,417.65 300.81,420.31 301.20,422.10 C301.59,423.89 302.21,428.17 302.70,430.90 C303.19,433.63 304.31,440.45 304.90,442.60 C305.49,444.75 306.51,446.61 307.10,447.00 C307.69,447.39 308.71,446.67 309.30,445.50 C309.89,444.33 310.98,440.27 311.50,438.20 C312.02,436.13 312.81,430.39 313.20,430.00 C313.59,429.61 314.05,432.26 314.40,435.30 C314.75,438.34 315.32,448.52 315.80,452.80 C316.28,457.08 317.41,464.45 318.00,467.40 C318.59,470.35 319.91,473.90 320.20,474.90" stroke="#c81e1e" stroke-width="1.7" stroke-dasharray="3.8 2.6"/></g>
<rect x="212.19" y="343.3" width="125.26" height="131.60" fill="none" stroke="#666" stroke-width="1"/>
<line x1="209.89" y1="474.90" x2="212.19" y2="474.90" stroke="#666" stroke-width="0.9"/>
<text transform="translate(192.83,479.40) scale(0.915,1)" font-size="11.7">0.0</text>
<line x1="209.89" y1="443.35" x2="212.19" y2="443.35" stroke="#666" stroke-width="0.9"/>
<text transform="translate(186.99,447.85) scale(0.915,1)" font-size="11.7">0.02</text>
<line x1="209.89" y1="410.00" x2="212.19" y2="410.00" stroke="#666" stroke-width="0.9"/>
<text transform="translate(186.77,414.50) scale(0.915,1)" font-size="11.7">0.04</text>
<line x1="209.89" y1="376.65" x2="212.19" y2="376.65" stroke="#666" stroke-width="0.9"/>
<text transform="translate(186.92,381.15) scale(0.915,1)" font-size="11.7">0.06</text>
<line x1="209.89" y1="343.30" x2="212.19" y2="343.30" stroke="#666" stroke-width="0.9"/>
<text transform="translate(186.92,347.80) scale(0.915,1)" font-size="11.7">0.08</text>
<line x1="240.8" y1="474.9" x2="240.8" y2="477.20" stroke="#666" stroke-width="0.9"/>
<text transform="translate(231.56,487.80) scale(0.94,1)" font-size="11.7">250</text>
<line x1="276.6" y1="474.9" x2="276.6" y2="477.20" stroke="#666" stroke-width="0.9"/>
<text transform="translate(267.38,487.80) scale(0.94,1)" font-size="11.7">275</text>
<line x1="312.8" y1="474.9" x2="312.8" y2="477.20" stroke="#666" stroke-width="0.9"/>
<text transform="translate(303.63,487.80) scale(0.94,1)" font-size="11.7">300</text>
<text transform="translate(259.48,500.70) scale(0.98,1)" font-size="10.8">tas (K)</text>
<text transform="translate(181.89,409.10) rotate(-90) translate(-10.12,0) scale(0.885,1)" font-size="11.2">PDF</text>
<text transform="translate(217.25,357.00) scale(0.975,1)" font-size="14.0" fill="#000">October</text>
<clipPath id="c_November"><rect x="385.45" y="343.32" width="125.01" height="131.07"/></clipPath>
<g clip-path="url(#c_November)" fill="none" stroke-linejoin="round"><path d="M457.50,400.00 C457.77,397.87 459.03,387.07 459.50,384.00 C459.97,380.93 460.60,377.93 461.00,377.00 C461.40,376.07 462.10,375.80 462.50,377.00 C462.90,378.20 463.60,382.93 464.00,386.00 C464.40,389.07 465.30,398.13 465.50,400.00" stroke="#c4c4c4" stroke-width="1.2"/><path d="M415.55,474.39 C416.14,474.23 418.78,473.51 419.95,473.20 C421.12,472.89 423.44,472.46 424.35,472.10 C425.26,471.74 426.16,471.02 426.75,470.50 C427.34,469.98 427.90,469.07 428.75,468.20 C429.60,467.33 431.99,465.23 433.15,464.00 C434.31,462.77 436.38,460.29 437.45,459.00 C438.52,457.71 440.27,455.71 441.15,454.30 C442.03,452.89 443.37,450.16 444.05,448.40 C444.73,446.64 445.66,442.75 446.25,441.10 C446.84,439.45 447.86,437.16 448.45,436.00 C449.04,434.84 450.06,434.05 450.65,432.40 C451.24,430.75 452.26,425.95 452.85,423.60 C453.44,421.25 454.60,416.88 455.05,414.80 C455.50,412.72 455.82,411.31 456.25,408.00 C456.68,404.69 457.78,393.73 458.25,390.00 C458.72,386.27 459.36,381.99 459.75,380.00 C460.14,378.01 460.78,375.10 461.15,375.10 C461.52,375.10 462.14,377.75 462.55,380.00 C462.96,382.25 463.85,388.13 464.25,392.00 C464.65,395.87 465.23,405.23 465.55,409.00 C465.87,412.77 466.34,418.43 466.65,420.30 C466.96,422.17 467.60,422.91 467.85,423.00 C468.10,423.09 468.26,421.87 468.55,421.00 C468.84,420.13 469.65,416.57 470.05,416.50 C470.45,416.43 471.32,419.75 471.55,420.50 C471.78,421.25 471.43,420.71 471.75,422.10 C472.07,423.49 473.36,428.55 473.95,430.90 C474.54,433.25 475.36,437.95 476.15,439.70 C476.94,441.45 478.92,443.07 479.85,444.00 C480.78,444.93 482.38,447.09 483.15,446.70 C483.92,446.31 485.12,443.01 485.65,441.10 C486.18,439.19 486.76,433.95 487.15,432.40 C487.54,430.85 488.20,429.11 488.55,429.50 C488.90,429.89 489.46,432.58 489.75,435.30 C490.04,438.02 490.42,446.01 490.75,449.90 C491.08,453.79 491.76,461.23 492.25,464.50 C492.74,467.77 494.16,473.07 494.45,474.39" stroke="#000" stroke-width="1.15"/><path d="M416.05,474.39 C416.64,474.23 419.28,473.51 420.45,473.20 C421.62,472.89 423.68,472.67 424.85,472.10 C426.02,471.53 428.08,469.82 429.25,468.90 C430.42,467.98 432.49,466.37 433.65,465.20 C434.81,464.03 436.88,461.55 437.95,460.10 C439.02,458.65 440.77,455.86 441.65,454.30 C442.53,452.74 443.87,450.16 444.55,448.40 C445.23,446.64 446.16,442.75 446.75,441.10 C447.34,439.45 448.36,437.16 448.95,436.00 C449.54,434.84 450.56,434.05 451.15,432.40 C451.74,430.75 452.76,425.95 453.35,423.60 C453.94,421.25 455.16,416.75 455.55,414.80 C455.94,412.85 455.97,411.17 456.25,409.00 C456.53,406.83 457.17,402.43 457.65,398.50 C458.13,394.57 459.42,383.03 459.85,379.50 C460.28,375.97 460.61,373.36 460.85,372.00 C461.09,370.64 461.44,369.30 461.65,369.30 C461.86,369.30 462.20,370.64 462.45,372.00 C462.70,373.36 463.15,375.97 463.55,379.50 C463.95,383.03 465.06,394.57 465.45,398.50 C465.84,402.43 466.22,406.00 466.45,409.00 C466.68,412.00 466.90,418.93 467.15,421.00 C467.40,423.07 468.00,424.63 468.35,424.50 C468.70,424.37 469.48,420.80 469.75,420.00 C470.02,419.20 470.02,418.22 470.35,418.50 C470.68,418.78 471.70,420.45 472.25,422.10 C472.80,423.75 473.86,428.55 474.45,430.90 C475.04,433.25 475.86,437.95 476.65,439.70 C477.44,441.45 479.42,443.07 480.35,444.00 C481.28,444.93 482.88,447.09 483.65,446.70 C484.42,446.31 485.62,443.06 486.15,441.10 C486.68,439.14 487.26,433.68 487.65,432.00 C488.04,430.32 488.70,428.10 489.05,428.50 C489.40,428.90 489.96,432.15 490.25,435.00 C490.54,437.85 490.92,445.97 491.25,449.90 C491.58,453.83 492.26,461.23 492.75,464.50 C493.24,467.77 494.66,473.07 494.95,474.39" stroke="#2e6aa5" stroke-width="1.5"/><path d="M415.80,474.39 C416.39,474.23 419.03,473.51 420.20,473.20 C421.37,472.89 423.43,472.67 424.60,472.10 C425.77,471.53 427.83,469.82 429.00,468.90 C430.17,467.98 432.24,466.37 433.40,465.20 C434.56,464.03 436.63,461.55 437.70,460.10 C438.77,458.65 440.52,455.86 441.40,454.30 C442.28,452.74 443.62,450.16 444.30,448.40 C444.98,446.64 445.91,442.75 446.50,441.10 C447.09,439.45 448.11,437.16 448.70,436.00 C449.29,434.84 450.31,434.05 450.90,432.40 C451.49,430.75 452.51,425.95 453.10,423.60 C453.69,421.25 454.85,416.88 455.30,414.80 C455.75,412.72 456.07,411.31 456.50,408.00 C456.93,404.69 458.03,393.73 458.50,390.00 C458.97,386.27 459.61,381.99 460.00,380.00 C460.39,378.01 461.03,375.10 461.40,375.10 C461.77,375.10 462.39,377.75 462.80,380.00 C463.21,382.25 464.10,388.13 464.50,392.00 C464.90,395.87 465.48,405.23 465.80,409.00 C466.12,412.77 466.59,418.43 466.90,420.30 C467.21,422.17 467.67,423.24 468.10,423.00 C468.53,422.76 469.58,418.62 470.10,418.50 C470.62,418.38 471.45,420.45 472.00,422.10 C472.55,423.75 473.61,428.55 474.20,430.90 C474.79,433.25 475.61,437.95 476.40,439.70 C477.19,441.45 479.17,443.07 480.10,444.00 C481.03,444.93 482.63,447.09 483.40,446.70 C484.17,446.31 485.37,443.01 485.90,441.10 C486.43,439.19 487.01,433.95 487.40,432.40 C487.79,430.85 488.45,429.11 488.80,429.50 C489.15,429.89 489.71,432.58 490.00,435.30 C490.29,438.02 490.67,446.01 491.00,449.90 C491.33,453.79 492.01,461.23 492.50,464.50 C492.99,467.77 494.41,473.07 494.70,474.39" stroke="#c81e1e" stroke-width="1.7" stroke-dasharray="3.8 2.6"/></g>
<rect x="385.45" y="343.32" width="125.01" height="131.07" fill="none" stroke="#666" stroke-width="1"/>
<line x1="383.15" y1="474.39" x2="385.45" y2="474.39" stroke="#666" stroke-width="0.9"/>
<text transform="translate(366.09,478.89) scale(0.915,1)" font-size="11.7">0.0</text>
<line x1="383.15" y1="454.79" x2="385.45" y2="454.79" stroke="#666" stroke-width="0.9"/>
<text transform="translate(360.24,459.29) scale(0.915,1)" font-size="11.7">0.01</text>
<line x1="383.15" y1="432.50" x2="385.45" y2="432.50" stroke="#666" stroke-width="0.9"/>
<text transform="translate(360.25,437.00) scale(0.915,1)" font-size="11.7">0.02</text>
<line x1="383.15" y1="410.20" x2="385.45" y2="410.20" stroke="#666" stroke-width="0.9"/>
<text transform="translate(360.18,414.70) scale(0.915,1)" font-size="11.7">0.03</text>
<line x1="383.15" y1="387.91" x2="385.45" y2="387.91" stroke="#666" stroke-width="0.9"/>
<text transform="translate(360.03,392.41) scale(0.915,1)" font-size="11.7">0.04</text>
<line x1="383.15" y1="365.62" x2="385.45" y2="365.62" stroke="#666" stroke-width="0.9"/>
<text transform="translate(360.16,370.12) scale(0.915,1)" font-size="11.7">0.05</text>
<line x1="383.15" y1="343.32" x2="385.45" y2="343.32" stroke="#666" stroke-width="0.9"/>
<text transform="translate(360.18,347.82) scale(0.915,1)" font-size="11.7">0.06</text>
<line x1="393.3" y1="474.39" x2="393.3" y2="476.69" stroke="#666" stroke-width="0.9"/>
<text transform="translate(384.08,487.29) scale(0.94,1)" font-size="11.7">225</text>
<line x1="425.4" y1="474.39" x2="425.4" y2="476.69" stroke="#666" stroke-width="0.9"/>
<text transform="translate(416.16,487.29) scale(0.94,1)" font-size="11.7">250</text>
<line x1="457.3" y1="474.39" x2="457.3" y2="476.69" stroke="#666" stroke-width="0.9"/>
<text transform="translate(448.08,487.29) scale(0.94,1)" font-size="11.7">275</text>
<line x1="489.5" y1="474.39" x2="489.5" y2="476.69" stroke="#666" stroke-width="0.9"/>
<text transform="translate(480.33,487.29) scale(0.94,1)" font-size="11.7">300</text>
<text transform="translate(432.62,500.19) scale(0.98,1)" font-size="10.8">tas (K)</text>
<text transform="translate(355.15,408.86) rotate(-90) translate(-10.12,0) scale(0.885,1)" font-size="11.2">PDF</text>
<text transform="translate(390.78,357.00) scale(0.975,1)" font-size="14.0" fill="#000">November</text>
<clipPath id="c_December"><rect x="558.46" y="343.46" width="124.84" height="130.93"/></clipPath>
<g clip-path="url(#c_December)" fill="none" stroke-linejoin="round"><path d="M629.00,382.00 C629.24,381.07 630.33,375.80 630.80,375.00 C631.27,374.20 632.07,375.07 632.50,376.00 C632.93,376.93 633.60,380.27 634.00,382.00 C634.40,383.73 635.30,388.07 635.50,389.00" stroke="#c4c4c4" stroke-width="1.2"/><path d="M630.50,382.00 C630.67,381.20 631.40,376.53 631.80,376.00 C632.20,375.47 633.07,376.93 633.50,378.00 C633.93,379.07 634.63,382.40 635.00,384.00 C635.37,385.60 636.13,389.20 636.30,390.00" stroke="#c4c4c4" stroke-width="1.2"/><path d="M587.85,474.39 C588.53,474.04 591.68,472.73 592.95,471.80 C594.22,470.87 596.18,468.57 597.35,467.40 C598.52,466.23 600.58,464.17 601.75,463.00 C602.92,461.83 605.08,459.96 606.15,458.60 C607.22,457.24 608.88,454.35 609.75,452.80 C610.62,451.25 611.88,448.75 612.65,447.00 C613.42,445.25 614.87,441.26 615.55,439.70 C616.23,438.14 617.16,436.67 617.75,435.30 C618.34,433.93 619.36,431.16 619.95,429.40 C620.54,427.64 621.56,424.23 622.15,422.10 C622.74,419.97 623.92,415.28 624.35,413.40 C624.78,411.52 625.00,410.57 625.35,408.00 C625.70,405.43 626.50,397.90 626.95,394.10 C627.40,390.30 628.38,382.31 628.75,379.50 C629.12,376.69 629.48,374.07 629.75,373.00 C630.02,371.93 630.48,370.97 630.75,371.50 C631.02,372.03 631.54,375.47 631.75,377.00 C631.96,378.53 632.19,381.47 632.35,383.00 C632.51,384.53 632.72,387.67 632.95,388.50 C633.18,389.33 633.73,388.87 634.05,389.20 C634.37,389.53 634.99,389.63 635.35,391.00 C635.71,392.37 636.52,398.43 636.75,399.50 C636.98,400.57 636.80,397.73 637.05,399.00 C637.30,400.27 638.30,406.49 638.65,409.00 C639.00,411.51 639.32,415.27 639.65,417.80 C639.98,420.33 640.56,425.48 641.15,428.00 C641.74,430.52 643.28,434.37 644.05,436.70 C644.82,439.03 646.16,443.55 646.95,445.50 C647.74,447.45 649.16,451.10 649.95,451.30 C650.74,451.50 652.08,448.36 652.85,447.00 C653.62,445.64 655.07,442.86 655.75,441.10 C656.43,439.34 657.40,435.93 657.95,433.80 C658.50,431.67 659.41,425.49 659.85,425.10 C660.29,424.71 660.92,427.98 661.25,430.90 C661.58,433.82 662.02,442.52 662.35,447.00 C662.68,451.48 663.18,460.85 663.75,464.50 C664.32,468.15 666.26,473.07 666.65,474.39" stroke="#000" stroke-width="1.15"/><path d="M588.35,474.39 C589.03,474.04 592.18,472.73 593.45,471.80 C594.72,470.87 596.68,468.57 597.85,467.40 C599.02,466.23 601.08,464.17 602.25,463.00 C603.42,461.83 605.58,459.96 606.65,458.60 C607.72,457.24 609.38,454.35 610.25,452.80 C611.12,451.25 612.38,448.75 613.15,447.00 C613.92,445.25 615.37,441.26 616.05,439.70 C616.73,438.14 617.66,436.67 618.25,435.30 C618.84,433.93 619.86,431.16 620.45,429.40 C621.04,427.64 622.06,424.23 622.65,422.10 C623.24,419.97 624.42,415.28 624.85,413.40 C625.28,411.52 625.50,410.57 625.85,408.00 C626.20,405.43 627.02,397.90 627.45,394.10 C627.88,390.30 628.69,382.38 629.05,379.50 C629.41,376.62 629.90,373.77 630.15,372.50 C630.40,371.23 630.72,370.00 630.95,370.00 C631.18,370.00 631.58,371.23 631.85,372.50 C632.12,373.77 632.68,378.37 632.95,379.50 C633.22,380.63 633.49,379.73 633.85,381.00 C634.21,382.27 635.16,386.60 635.65,389.00 C636.14,391.40 637.08,396.33 637.55,399.00 C638.02,401.67 638.80,406.49 639.15,409.00 C639.50,411.51 639.82,415.27 640.15,417.80 C640.48,420.33 641.06,425.48 641.65,428.00 C642.24,430.52 643.78,434.37 644.55,436.70 C645.32,439.03 646.66,443.55 647.45,445.50 C648.24,447.45 649.66,451.10 650.45,451.30 C651.24,451.50 652.58,448.36 653.35,447.00 C654.12,445.64 655.57,442.86 656.25,441.10 C656.93,439.34 658.05,435.28 658.45,433.80 C658.85,432.32 659.00,431.27 659.25,430.00 C659.50,428.73 660.06,424.43 660.35,424.30 C660.64,424.17 661.26,428.12 661.45,429.00 C661.64,429.88 661.56,428.50 661.75,430.90 C661.94,433.30 662.52,442.52 662.85,447.00 C663.18,451.48 663.68,460.85 664.25,464.50 C664.82,468.15 666.76,473.07 667.15,474.39" stroke="#2e6aa5" stroke-width="1.5"/><path d="M588.10,474.39 C588.78,474.04 591.93,472.73 593.20,471.80 C594.47,470.87 596.43,468.57 597.60,467.40 C598.77,466.23 600.83,464.17 602.00,463.00 C603.17,461.83 605.33,459.96 606.40,458.60 C607.47,457.24 609.13,454.35 610.00,452.80 C610.87,451.25 612.13,448.75 612.90,447.00 C613.67,445.25 615.12,441.26 615.80,439.70 C616.48,438.14 617.41,436.67 618.00,435.30 C618.59,433.93 619.61,431.16 620.20,429.40 C620.79,427.64 621.81,424.23 622.40,422.10 C622.99,419.97 624.17,415.28 624.60,413.40 C625.03,411.52 625.25,410.57 625.60,408.00 C625.95,405.43 626.75,397.90 627.20,394.10 C627.65,390.30 628.60,382.18 629.00,379.50 C629.40,376.82 629.91,374.97 630.20,374.00 C630.49,373.03 630.93,372.13 631.20,372.20 C631.47,372.27 631.88,373.33 632.20,374.50 C632.52,375.67 633.17,379.07 633.60,381.00 C634.03,382.93 634.91,386.60 635.40,389.00 C635.89,391.40 636.83,396.33 637.30,399.00 C637.77,401.67 638.55,406.49 638.90,409.00 C639.25,411.51 639.57,415.27 639.90,417.80 C640.23,420.33 640.81,425.48 641.40,428.00 C641.99,430.52 643.53,434.37 644.30,436.70 C645.07,439.03 646.41,443.55 647.20,445.50 C647.99,447.45 649.41,451.10 650.20,451.30 C650.99,451.50 652.33,448.36 653.10,447.00 C653.87,445.64 655.32,442.86 656.00,441.10 C656.68,439.34 657.65,435.93 658.20,433.80 C658.75,431.67 659.66,425.49 660.10,425.10 C660.54,424.71 661.17,427.98 661.50,430.90 C661.83,433.82 662.27,442.52 662.60,447.00 C662.93,451.48 663.43,460.85 664.00,464.50 C664.57,468.15 666.51,473.07 666.90,474.39" stroke="#c81e1e" stroke-width="1.7" stroke-dasharray="3.8 2.6"/></g>
<rect x="558.46" y="343.46" width="124.84" height="130.93" fill="none" stroke="#666" stroke-width="1"/>
<line x1="556.16" y1="474.39" x2="558.46" y2="474.39" stroke="#666" stroke-width="0.9"/>
<text transform="translate(539.10,478.89) scale(0.915,1)" font-size="11.7">0.0</text>
<line x1="556.16" y1="450.00" x2="558.46" y2="450.00" stroke="#666" stroke-width="0.9"/>
<text transform="translate(533.25,454.50) scale(0.915,1)" font-size="11.7">0.01</text>
<line x1="556.16" y1="423.37" x2="558.46" y2="423.37" stroke="#666" stroke-width="0.9"/>
<text transform="translate(533.26,427.87) scale(0.915,1)" font-size="11.7">0.02</text>
<line x1="556.16" y1="396.73" x2="558.46" y2="396.73" stroke="#666" stroke-width="0.9"/>
<text transform="translate(533.19,401.23) scale(0.915,1)" font-size="11.7">0.03</text>
<line x1="556.16" y1="370.10" x2="558.46" y2="370.10" stroke="#666" stroke-width="0.9"/>
<text transform="translate(533.04,374.60) scale(0.915,1)" font-size="11.7">0.04</text>
<line x1="556.16" y1="343.46" x2="558.46" y2="343.46" stroke="#666" stroke-width="0.9"/>
<text transform="translate(533.17,347.96) scale(0.915,1)" font-size="11.7">0.05</text>
<line x1="603.6" y1="474.39" x2="603.6" y2="476.69" stroke="#666" stroke-width="0.9"/>
<text transform="translate(594.36,487.29) scale(0.94,1)" font-size="11.7">250</text>
<line x1="661" y1="474.39" x2="661" y2="476.69" stroke="#666" stroke-width="0.9"/>
<text transform="translate(651.83,487.29) scale(0.94,1)" font-size="11.7">300</text>
<text transform="translate(605.54,500.19) scale(0.98,1)" font-size="10.8">tas (K)</text>
<text transform="translate(528.16,408.92) rotate(-90) translate(-10.12,0) scale(0.885,1)" font-size="11.2">PDF</text>
<text transform="translate(564.28,357.00) scale(0.975,1)" font-size="14.0" fill="#000">December</text>
<line x1="88.2" y1="522" x2="115.7" y2="522" stroke="#909090" stroke-width="2"/>
<text transform="translate(118.10,524.50) scale(1.0,1)" font-size="10.65" fill="#222" style="stroke-width:0.08px">Other models</text>
<line x1="197.2" y1="522" x2="224.8" y2="522" stroke="#2e6aa5" stroke-width="2"/>
<text transform="translate(228.03,524.50) scale(1.0,1)" font-size="10.65" fill="#222" style="stroke-width:0.08px">MME of MoCHAT</text>
<line x1="326" y1="522" x2="353.3" y2="522" stroke="#000" stroke-width="2"/>
<text transform="translate(356.23,524.50) scale(1.0,1)" font-size="10.65" fill="#222" style="stroke-width:0.08px">MME of NEX-GDDP-CMIP6</text>
<path d="M501.7,522 L529.3,522" stroke="#c81e1e" stroke-width="2" stroke-dasharray="4.6 6.2"/>
<text transform="translate(533.00,524.40) scale(1.0,1)" font-size="10.65" fill="#222" style="stroke-width:0.08px">Observations</text>
</svg>
</body></html>
